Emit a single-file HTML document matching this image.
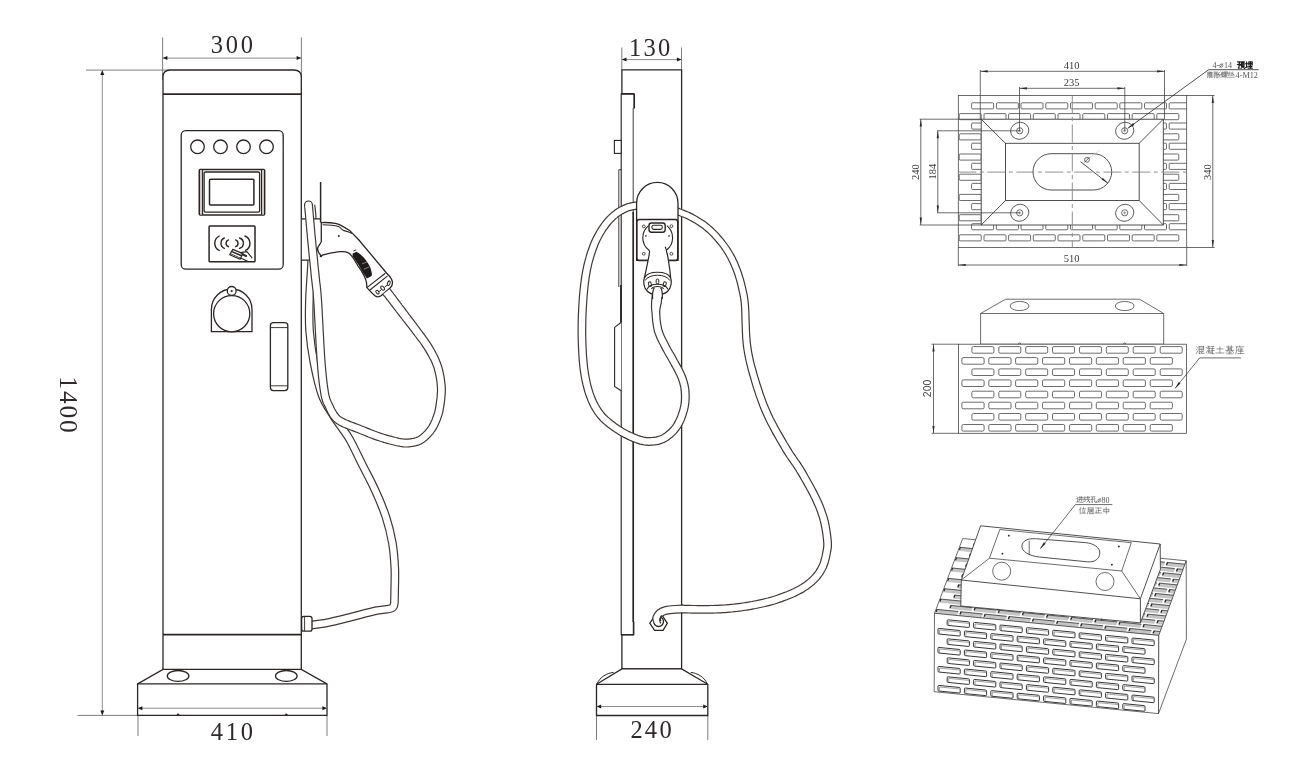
<!DOCTYPE html>
<html><head><meta charset="utf-8"><title>Charging pile dimension drawing</title>
<style>
html,body{margin:0;padding:0;background:#fff;}
body{width:1292px;height:780px;overflow:hidden;font-family:"Liberation Serif",serif;}
svg{display:block}
svg{will-change:transform}
.k{fill:none;stroke:#2b2624;stroke-width:1.3}
.kw{fill:#fff;stroke:#2b2624;stroke-width:1.3}
.kt{fill:none;stroke:#2b2624;stroke-width:0.9}
.kb{fill:none;stroke:#2b2624;stroke-width:1.7}
.d{fill:none;stroke:#8e8e8e;stroke-width:1}
.e{fill:none;stroke:#6e6e6e;stroke-width:0.9}
.g{fill:none;stroke:#3c3c3c;stroke-width:0.75}
.gw{fill:#fff;stroke:#3c3c3c;stroke-width:0.75}
.gl{fill:none;stroke:#858585;stroke-width:0.9}
.br{fill:#fff;stroke:#3c3c3c;stroke-width:0.75}
.big{font-family:"Liberation Serif",serif;font-size:24.5px;fill:#2e2a29}
.sm{font-family:"Liberation Serif",serif;font-size:10.5px;fill:#3a3a3a}
.ss{font-family:"Liberation Sans",sans-serif;font-size:10.5px;fill:#4a4a4a}
</style></head><body>
<svg width="1292" height="780" viewBox="0 0 1292 780">
<rect width="1292" height="780" fill="#fff"/>
<g id="front">
<path class="e" d="M162.6,37.5V80 M301.4,37.5V80 M86,70.1H171 M77.5,715.4H138 M138,715.4V736 M327,715.4V736"/>
<text class="big" x="210.8 225.8 240.8" y="52.8">300</text>
<text class="big" x="210.8 225.8 240.8" y="739.8">410</text>
<text class="big" style="font-size:25.5px" transform="translate(59.8,378.5) rotate(90)" x="-2.3 12.6 27 41.4" y="0">1400</text>
<path d="M311.0,205.0 C311.2,207.8 312.3,212.5 312.4,222.0 C312.5,231.5 312.1,249.0 311.6,262.0 C311.1,275.0 309.7,288.5 309.4,300.0 C309.1,311.5 308.8,320.5 309.6,331.0 C310.4,341.5 311.9,352.3 314.0,363.0 C316.1,373.7 318.8,386.3 322.0,395.0 C325.2,403.7 329.7,409.5 333.0,415.0 C336.3,420.5 339.2,423.8 342.0,428.0 C344.8,432.2 346.5,433.7 350.0,440.0 C353.5,446.3 358.5,457.1 362.8,465.6 C367.1,474.2 371.8,482.8 375.6,491.3 C379.5,499.9 383.1,508.3 385.9,516.9 C388.7,525.4 390.8,534.0 392.3,542.6 C393.8,551.2 394.4,559.7 394.8,568.2 C395.2,576.7 394.6,589.5 394.6,593.8 L394.4,603 Q394.2,608.6 388.6,609 L376.9,610.5 C368,612.4 360,614.8 351.3,617 C342,619.4 334,621.6 325.6,623.1 L311,625.1" fill="none" stroke="#3f3835" stroke-width="8.70" stroke-linecap="butt" stroke-linejoin="round"/>
<path d="M311.0,205.0 C311.2,207.8 312.3,212.5 312.4,222.0 C312.5,231.5 312.1,249.0 311.6,262.0 C311.1,275.0 309.7,288.5 309.4,300.0 C309.1,311.5 308.8,320.5 309.6,331.0 C310.4,341.5 311.9,352.3 314.0,363.0 C316.1,373.7 318.8,386.3 322.0,395.0 C325.2,403.7 329.7,409.5 333.0,415.0 C336.3,420.5 339.2,423.8 342.0,428.0 C344.8,432.2 346.5,433.7 350.0,440.0 C353.5,446.3 358.5,457.1 362.8,465.6 C367.1,474.2 371.8,482.8 375.6,491.3 C379.5,499.9 383.1,508.3 385.9,516.9 C388.7,525.4 390.8,534.0 392.3,542.6 C393.8,551.2 394.4,559.7 394.8,568.2 C395.2,576.7 394.6,589.5 394.6,593.8 L394.4,603 Q394.2,608.6 388.6,609 L376.9,610.5 C368,612.4 360,614.8 351.3,617 C342,619.4 334,621.6 325.6,623.1 L311,625.1" fill="none" stroke="#fff" stroke-width="6.30" stroke-linecap="butt" stroke-linejoin="round"/>
<path class="kw" d="M163,669.4V77 Q163,70 170.5,70 H293.8 Q301.3,70 301.3,77 V669.4"/>
<path class="kb" d="M163,94.2H301"/>
<path class="kb" d="M163,634.7H301.3"/>
<path class="kw" d="M163,669.4H301.3L327,683.9V715.4H137.6V683.9Z"/>
<path class="k" d="M137.6,683.9H327"/>
<ellipse class="k" cx="178.1" cy="675.9" rx="10.8" ry="5.4"/><ellipse class="k" cx="286.3" cy="675.9" rx="10.8" ry="5.4"/>
<circle cx="178.1" cy="714.6" r="1.2" fill="#2b2624"/><circle cx="286.3" cy="714.6" r="1.2" fill="#2b2624"/>
<rect class="k" x="181.2" y="130.6" width="102" height="138.6" rx="4.5"/>
<circle class="k" cx="197.5" cy="146.8" r="6.8"/>
<circle class="k" cx="220.5" cy="146.8" r="6.8"/>
<circle class="k" cx="243.5" cy="146.8" r="6.8"/>
<circle class="k" cx="266.5" cy="146.8" r="6.8"/>
<rect class="kb" x="199.3" y="169.5" width="65.3" height="45.5" rx="1" style="stroke-width:1.6"/>
<path d="M200,170.2H202.6V214.4H200Z M261.5,170.2H264V214.4H261.5Z" fill="#cfcac8"/>
<path class="k" style="stroke-width:1.1" d="M202.6,170V215 M261.5,170V215"/>
<rect class="k" x="204.1" y="172" width="55.5" height="40.2" rx="1.4" style="stroke-width:1.3"/>
<rect class="kb" x="209.5" y="179.3" width="44.4" height="25.7" rx="0.9" style="stroke-width:1.5"/>
<rect class="k" x="209.1" y="225.9" width="45.9" height="35.9" rx="0.8" style="stroke-width:1.5"/>
<g class="k" style="stroke-width:1.4" stroke-linecap="round">
<path d="M219.2,236.0 A8.09,8.09 0 0 0 219.2,250.4"/>
<path d="M224.3,238.0 A5.75,5.75 0 0 0 224.3,248.4"/>
<path d="M228.5,239.9 A3.61,3.61 0 0 0 228.5,246.7"/>
<path d="M235.6,239.9 A3.61,3.61 0 0 1 235.6,246.7"/>
<path d="M239.5,238.0 A5.42,5.42 0 0 1 239.5,248.4"/>
<path d="M244.9,236.0 A7.90,7.90 0 0 1 245.6,250.4"/>
</g>
<path d="M232.8,249.4L242.9,253.6L240.1,259.2L229.7,254.7Z" fill="#fff" stroke="#2b2624" stroke-width="1.2" stroke-linejoin="round"/>
<path d="M231.9,251.6L241.6,255.8" stroke="#2b2624" stroke-width="1.5" fill="none"/>
<path d="M230.9,253.9L240.4,258" stroke="#2b2624" stroke-width="0.8" fill="none"/>
<path class="k" style="stroke-width:1.1" d="M240.1,252.6L246.9,251.6L252.2,258.1 M240.7,258.1L248,261.4"/>
<path d="M242.6,254.4L246,256" stroke="#2b2624" stroke-width="2" fill="none" stroke-linecap="round"/>
<path class="k" d="M211.4,331.7V309.3 A20.3,20.3 0 0 1 252,309.3 V331.7 Z"/>
<circle class="kw" cx="231.7" cy="313.7" r="18.1"/>
<circle class="kw" cx="231.7" cy="290.9" r="4.4"/><circle cx="231.7" cy="291" r="1.1" fill="#2b2624"/>
<rect class="k" x="270.4" y="322.6" width="17.4" height="68" rx="3"/>
<path class="kt" d="M270.4,327.6H287.8 M270.4,385.8H287.8"/>
<rect x="301.9" y="218.9" width="18.4" height="41.2" fill="#fff"/>
<path class="k" d="M301.3,218.9H321 M301.3,260.1H310.5"/>
<path class="kb" style="stroke-width:1.5" d="M320.6,182V222.5"/>
<rect class="kw" x="301.6" y="616.3" width="10.4" height="14.8" rx="2.2"/>
<path class="kt" d="M304.6,616.5V631"/>
<path class="kw" d="M321.3,222.6 C326,222.4 331,222.6 335.3,223.3 C338,223.8 339.5,224.6 341,225.4 L349.6,230.4 L358.9,240 L386.7,273.2 C389.6,276 391.4,278 392.2,281 C393,284.6 391.8,286.4 390.3,287.8 L381.4,295.6 C379.4,297.2 376.6,297 374.6,295.4 L369.4,290.4 L366.9,287.6 C366.8,284 366.6,282 366,280.4 C365.2,278 364.4,276 363.3,274.1 C361.4,270.6 359.8,268.6 358,266 C356,262.6 354.6,259.8 352.6,257.1 C351,255 349.6,253.2 348.1,252.6 C345.6,251.4 342.6,251.5 340,251.7 C336,252 332,252.8 328.2,253.6 L322.3,255.2 L321.3,256.3 L320.6,255.2 C318.6,252.6 317.4,250.6 317.6,248.6 C317.8,246 321,243.4 321.3,241.5 Z"/>
<path class="k" style="stroke-width:1.1" d="M322.6,224.8 C328,224.8 334,225 338.5,226.6 C340.4,227.6 341.5,229 343.4,230.4 L349.4,232.2 L352,233.4"/>
<circle cx="338.8" cy="235.9" r="1" fill="#2b2624"/>
<path d="M352.6,253.5 L356.6,251.7 C359.6,253.4 362,255.6 364.2,258 C366.4,260.6 368.2,263.2 369.6,266 C370.8,268.6 371.6,271.2 371.9,274.1 L371.6,276 L366.9,278.6 C365.8,276.6 364.6,275 363.3,273.2 C361.8,270.2 360,267.2 358,264.2 C356.4,261.6 354.6,258.8 352.6,256.2 Z" fill="#1f1b1a"/>
<path d="M362,263.8 L367,262 M363.8,269.2 L369.2,266.9" stroke="#8a8a8a" stroke-width="0.9" fill="none"/>
<path d="M353.4,251 L356.2,249.8" stroke="#2b2624" stroke-width="1" fill="none"/>
<path class="k" style="stroke-width:1.1" d="M366.9,287.6 L385.3,273.2 M369.6,290.3 L387.6,275.9"/>
<g class="k" style="stroke-width:1">
<ellipse cx="377.5" cy="292.2" rx="1.3" ry="2.1" transform="rotate(-40 377.5 292.2)"/>
<ellipse cx="382.6" cy="288.2" rx="1.5" ry="2.3" transform="rotate(-40 382.6 288.2)"/>
<ellipse cx="388.8" cy="283.2" rx="1.2" ry="2.4" transform="rotate(20 388.8 283.2)"/>
<path d="M379.2,291.4 L381,290 M384.4,287.2 L387.4,285"/>
</g>
<polygon points="382.9,294.3 383.3,294.8 383.7,295.3 384.3,296.0 384.8,296.7 385.5,297.5 386.2,298.4 386.9,299.3 387.6,300.3 388.4,301.2 389.1,302.2 389.9,303.2 390.7,304.3 391.5,305.4 392.4,306.5 393.3,307.6 394.2,308.9 395.2,310.1 396.2,311.5 397.3,312.9 398.4,314.4 399.7,316.0 401.0,317.7 402.4,319.5 403.9,321.4 405.4,323.4 406.9,325.3 408.4,327.2 409.9,329.1 411.3,330.9 412.6,332.7 413.9,334.3 415.1,336.0 416.3,337.5 417.4,339.1 418.6,340.6 419.7,342.0 420.7,343.5 421.7,344.9 422.7,346.4 423.7,347.9 424.7,349.4 425.6,350.9 426.5,352.4 427.4,353.9 428.3,355.5 429.1,357.0 429.9,358.5 430.7,359.9 431.4,361.3 432.0,362.7 432.6,364.1 433.1,365.5 433.6,366.8 434.0,368.1 434.4,369.4 434.7,370.7 435.1,372.0 435.4,373.3 435.7,374.7 436.0,376.1 436.2,377.5 436.5,378.8 436.7,380.2 436.9,381.6 437.1,383.0 437.2,384.4 437.3,385.8 437.4,387.2 437.5,388.6 437.5,390.0 437.5,391.4 437.4,392.9 437.3,394.3 437.2,395.8 437.1,397.3 436.9,398.8 436.7,400.3 436.5,401.7 436.3,403.1 436.1,404.4 436.0,405.7 435.8,406.8 435.6,407.9 435.4,408.9 435.2,409.8 435.0,410.7 434.8,411.7 434.5,412.6 434.2,413.6 433.8,414.7 433.4,415.9 432.9,417.2 432.5,418.4 432.0,419.7 431.4,421.0 430.9,422.2 430.3,423.4 429.6,424.6 429.0,425.7 428.3,426.8 427.5,427.8 426.7,428.9 425.8,430.0 424.8,431.1 423.8,432.1 422.8,433.1 421.8,434.0 420.8,434.9 419.8,435.6 418.9,436.2 418.1,436.7 417.2,437.1 416.3,437.5 415.4,437.8 414.5,438.1 413.5,438.3 412.5,438.5 411.5,438.6 410.5,438.8 409.5,438.9 408.5,439.1 407.7,439.2 407.0,439.2 406.3,439.2 405.7,439.2 405.0,439.2 404.2,439.1 403.2,439.0 402.1,438.8 400.7,438.6 399.2,438.3 397.5,437.9 395.6,437.5 393.7,437.0 391.6,436.4 389.5,435.9 387.4,435.3 385.3,434.7 383.2,434.0 381.2,433.4 379.3,432.7 377.3,432.0 375.3,431.3 373.3,430.5 371.3,429.7 369.2,428.9 367.2,428.1 365.3,427.3 363.3,426.5 361.4,425.8 359.5,425.0 357.6,424.3 355.8,423.6 353.9,422.9 352.1,422.2 350.4,421.6 348.8,420.9 347.3,420.3 345.9,419.7 344.7,419.1 343.6,418.5 342.7,418.0 341.9,417.6 341.2,417.2 340.7,416.8 340.2,416.5 339.8,416.1 339.3,415.6 338.8,415.1 338.2,414.4 337.6,413.7 337.0,412.9 336.5,412.0 335.9,411.0 335.3,410.0 334.7,409.0 334.2,407.9 333.6,406.7 333.1,405.6 332.6,404.4 332.0,403.2 331.5,402.2 331.0,401.2 330.6,400.3 330.3,399.5 329.9,398.5 329.6,397.4 329.2,396.0 328.8,394.3 328.4,392.3 328.1,390.0 327.7,387.6 327.3,384.9 327.0,382.1 326.6,379.0 326.3,375.7 325.9,372.2 325.6,368.3 325.2,364.2 324.9,359.7 324.5,354.7 324.2,348.9 323.8,342.6 323.5,336.0 323.1,329.2 322.8,322.5 322.4,316.0 322.1,309.9 321.8,304.4 321.5,299.7 321.2,295.9 321.0,292.8 320.7,290.2 320.5,288.0 320.3,286.0 320.1,284.3 319.8,282.5 319.6,280.5 319.4,278.3 319.1,275.6 318.8,272.4 318.4,269.0 318.0,265.3 317.7,261.5 317.3,257.7 316.9,253.8 316.5,250.0 316.1,246.3 315.8,242.8 315.5,239.6 315.2,236.6 314.9,233.7 314.7,230.9 314.4,228.1 314.2,225.5 314.0,223.0 313.8,220.7 313.6,218.5 313.4,216.5 313.3,214.7 313.1,213.0 313.0,211.6 312.9,210.3 312.8,209.3 312.7,208.3 312.6,207.5 312.5,206.8 312.5,206.2 312.4,205.6 312.4,205.1 304.6,205.9 304.7,206.4 304.7,206.9 304.8,207.5 304.9,208.3 304.9,209.1 305.0,210.0 305.1,211.1 305.2,212.3 305.4,213.7 305.5,215.3 305.7,217.2 305.8,219.2 306.0,221.3 306.2,223.7 306.4,226.2 306.7,228.8 306.9,231.5 307.2,234.4 307.4,237.3 307.7,240.4 308.0,243.6 308.4,247.1 308.7,250.8 309.1,254.6 309.5,258.5 309.9,262.3 310.3,266.1 310.7,269.8 311.0,273.2 311.3,276.4 311.6,279.1 311.9,281.4 312.1,283.4 312.3,285.2 312.5,287.0 312.7,288.8 313.0,290.9 313.2,293.4 313.4,296.5 313.7,300.3 314.0,304.9 314.3,310.3 314.6,316.4 315.0,322.9 315.3,329.6 315.7,336.4 316.0,343.1 316.4,349.4 316.8,355.2 317.1,360.3 317.5,364.8 317.8,369.0 318.2,372.9 318.5,376.5 318.9,379.9 319.2,383.0 319.6,385.9 320.0,388.7 320.4,391.2 320.8,393.7 321.2,395.9 321.6,397.8 322.1,399.5 322.5,401.0 323.0,402.3 323.5,403.5 324.0,404.6 324.5,405.5 325.0,406.5 325.4,407.6 326.0,408.8 326.6,410.1 327.2,411.3 327.8,412.6 328.5,413.8 329.2,415.0 329.9,416.2 330.6,417.3 331.4,418.4 332.2,419.4 333.0,420.3 333.7,421.1 334.5,421.8 335.3,422.5 336.2,423.2 337.0,423.8 338.0,424.3 339.0,424.9 340.0,425.5 341.3,426.1 342.7,426.8 344.2,427.5 345.9,428.1 347.6,428.8 349.3,429.5 351.2,430.2 353.0,430.9 354.9,431.6 356.7,432.3 358.6,433.0 360.4,433.8 362.3,434.5 364.3,435.3 366.3,436.1 368.4,437.0 370.4,437.8 372.5,438.6 374.6,439.4 376.7,440.1 378.8,440.8 380.9,441.5 383.0,442.1 385.2,442.8 387.4,443.4 389.6,444.0 391.8,444.5 393.8,445.0 395.8,445.5 397.6,445.9 399.3,446.2 400.7,446.5 402.1,446.7 403.3,446.9 404.4,447.0 405.4,447.0 406.5,447.0 407.5,447.0 408.5,446.9 409.5,446.8 410.5,446.7 411.6,446.5 412.8,446.3 413.9,446.1 415.2,445.9 416.4,445.6 417.7,445.2 419.1,444.8 420.4,444.2 421.8,443.6 423.1,442.8 424.4,441.9 425.6,440.9 426.9,439.9 428.1,438.8 429.3,437.6 430.5,436.4 431.6,435.1 432.7,433.8 433.7,432.5 434.7,431.2 435.6,429.9 436.4,428.4 437.2,427.0 437.9,425.5 438.6,424.1 439.2,422.6 439.7,421.2 440.3,419.9 440.7,418.6 441.2,417.3 441.6,416.1 442.0,414.9 442.3,413.7 442.6,412.6 442.9,411.4 443.1,410.3 443.3,409.2 443.5,408.0 443.7,406.8 443.9,405.6 444.1,404.2 444.3,402.8 444.5,401.3 444.7,399.7 444.8,398.1 445.0,396.5 445.1,394.9 445.2,393.2 445.3,391.6 445.3,390.0 445.3,388.4 445.2,386.8 445.1,385.3 445.0,383.7 444.8,382.2 444.6,380.6 444.4,379.1 444.2,377.6 443.9,376.0 443.6,374.5 443.3,373.1 443.0,371.6 442.7,370.1 442.3,368.7 441.9,367.2 441.4,365.7 440.9,364.3 440.4,362.7 439.8,361.2 439.2,359.7 438.5,358.1 437.8,356.5 437.0,354.9 436.1,353.2 435.3,351.6 434.4,350.0 433.4,348.4 432.5,346.7 431.5,345.1 430.5,343.5 429.5,341.9 428.4,340.4 427.3,338.8 426.2,337.3 425.1,335.7 424.0,334.2 422.8,332.6 421.6,331.0 420.4,329.4 419.2,327.7 417.9,326.0 416.5,324.1 415.0,322.2 413.5,320.2 412.0,318.2 410.6,316.3 409.1,314.4 407.7,312.5 406.4,310.8 405.2,309.2 404.1,307.7 403.0,306.3 402.0,305.0 401.1,303.7 400.2,302.5 399.3,301.3 398.4,300.2 397.6,299.1 396.8,298.0 396.1,297.0 395.3,295.9 394.5,294.9 393.8,294.0 393.1,293.0 392.4,292.1 391.7,291.3 391.2,290.6 390.7,289.9 390.2,289.4 389.9,288.9" fill="#fff" stroke="none"/>
<polyline points="382.9,294.3 383.3,294.8 383.7,295.3 384.3,296.0 384.8,296.7 385.5,297.5 386.2,298.4 386.9,299.3 387.6,300.3 388.4,301.2 389.1,302.2 389.9,303.2 390.7,304.3 391.5,305.4 392.4,306.5 393.3,307.6 394.2,308.9 395.2,310.1 396.2,311.5 397.3,312.9 398.4,314.4 399.7,316.0 401.0,317.7 402.4,319.5 403.9,321.4 405.4,323.4 406.9,325.3 408.4,327.2 409.9,329.1 411.3,330.9 412.6,332.7 413.9,334.3 415.1,336.0 416.3,337.5 417.4,339.1 418.6,340.6 419.7,342.0 420.7,343.5 421.7,344.9 422.7,346.4 423.7,347.9 424.7,349.4 425.6,350.9 426.5,352.4 427.4,353.9 428.3,355.5 429.1,357.0 429.9,358.5 430.7,359.9 431.4,361.3 432.0,362.7 432.6,364.1 433.1,365.5 433.6,366.8 434.0,368.1 434.4,369.4 434.7,370.7 435.1,372.0 435.4,373.3 435.7,374.7 436.0,376.1 436.2,377.5 436.5,378.8 436.7,380.2 436.9,381.6 437.1,383.0 437.2,384.4 437.3,385.8 437.4,387.2 437.5,388.6 437.5,390.0 437.5,391.4 437.4,392.9 437.3,394.3 437.2,395.8 437.1,397.3 436.9,398.8 436.7,400.3 436.5,401.7 436.3,403.1 436.1,404.4 436.0,405.7 435.8,406.8 435.6,407.9 435.4,408.9 435.2,409.8 435.0,410.7 434.8,411.7 434.5,412.6 434.2,413.6 433.8,414.7 433.4,415.9 432.9,417.2 432.5,418.4 432.0,419.7 431.4,421.0 430.9,422.2 430.3,423.4 429.6,424.6 429.0,425.7 428.3,426.8 427.5,427.8 426.7,428.9 425.8,430.0 424.8,431.1 423.8,432.1 422.8,433.1 421.8,434.0 420.8,434.9 419.8,435.6 418.9,436.2 418.1,436.7 417.2,437.1 416.3,437.5 415.4,437.8 414.5,438.1 413.5,438.3 412.5,438.5 411.5,438.6 410.5,438.8 409.5,438.9 408.5,439.1 407.7,439.2 407.0,439.2 406.3,439.2 405.7,439.2 405.0,439.2 404.2,439.1 403.2,439.0 402.1,438.8 400.7,438.6 399.2,438.3 397.5,437.9 395.6,437.5 393.7,437.0 391.6,436.4 389.5,435.9 387.4,435.3 385.3,434.7 383.2,434.0 381.2,433.4 379.3,432.7 377.3,432.0 375.3,431.3 373.3,430.5 371.3,429.7 369.2,428.9 367.2,428.1 365.3,427.3 363.3,426.5 361.4,425.8 359.5,425.0 357.6,424.3 355.8,423.6 353.9,422.9 352.1,422.2 350.4,421.6 348.8,420.9 347.3,420.3 345.9,419.7 344.7,419.1 343.6,418.5 342.7,418.0 341.9,417.6 341.2,417.2 340.7,416.8 340.2,416.5 339.8,416.1 339.3,415.6 338.8,415.1 338.2,414.4 337.6,413.7 337.0,412.9 336.5,412.0 335.9,411.0 335.3,410.0 334.7,409.0 334.2,407.9 333.6,406.7 333.1,405.6 332.6,404.4 332.0,403.2 331.5,402.2 331.0,401.2 330.6,400.3 330.3,399.5 329.9,398.5 329.6,397.4 329.2,396.0 328.8,394.3 328.4,392.3 328.1,390.0 327.7,387.6 327.3,384.9 327.0,382.1 326.6,379.0 326.3,375.7 325.9,372.2 325.6,368.3 325.2,364.2 324.9,359.7 324.5,354.7 324.2,348.9 323.8,342.6 323.5,336.0 323.1,329.2 322.8,322.5 322.4,316.0 322.1,309.9 321.8,304.4 321.5,299.7 321.2,295.9 321.0,292.8 320.7,290.2 320.5,288.0 320.3,286.0 320.1,284.3 319.8,282.5 319.6,280.5 319.4,278.3 319.1,275.6 318.8,272.4 318.4,269.0 318.0,265.3 317.7,261.5 317.3,257.7 316.9,253.8 316.5,250.0 316.1,246.3 315.8,242.8 315.5,239.6 315.2,236.6 314.9,233.7 314.7,230.9 314.4,228.1 314.2,225.5 314.0,223.0 313.8,220.7 313.6,218.5 313.4,216.5 313.3,214.7 313.1,213.0 313.0,211.6 312.9,210.3 312.8,209.3 312.7,208.3 312.6,207.5 312.5,206.8 312.5,206.2 312.4,205.6 312.4,205.1" fill="none" stroke="#3f3835" stroke-width="1.20" stroke-linejoin="round"/>
<polyline points="389.9,288.9 390.2,289.4 390.7,289.9 391.2,290.6 391.7,291.3 392.4,292.1 393.1,293.0 393.8,294.0 394.5,294.9 395.3,295.9 396.1,297.0 396.8,298.0 397.6,299.1 398.4,300.2 399.3,301.3 400.2,302.5 401.1,303.7 402.0,305.0 403.0,306.3 404.1,307.7 405.2,309.2 406.4,310.8 407.7,312.5 409.1,314.4 410.6,316.3 412.0,318.2 413.5,320.2 415.0,322.2 416.5,324.1 417.9,326.0 419.2,327.7 420.4,329.4 421.6,331.0 422.8,332.6 424.0,334.2 425.1,335.7 426.2,337.3 427.3,338.8 428.4,340.4 429.5,341.9 430.5,343.5 431.5,345.1 432.5,346.7 433.4,348.4 434.4,350.0 435.3,351.6 436.1,353.2 437.0,354.9 437.8,356.5 438.5,358.1 439.2,359.7 439.8,361.2 440.4,362.7 440.9,364.3 441.4,365.7 441.9,367.2 442.3,368.7 442.7,370.1 443.0,371.6 443.3,373.1 443.6,374.5 443.9,376.0 444.2,377.6 444.4,379.1 444.6,380.6 444.8,382.2 445.0,383.7 445.1,385.3 445.2,386.8 445.3,388.4 445.3,390.0 445.3,391.6 445.2,393.2 445.1,394.9 445.0,396.5 444.8,398.1 444.7,399.7 444.5,401.3 444.3,402.8 444.1,404.2 443.9,405.6 443.7,406.8 443.5,408.0 443.3,409.2 443.1,410.3 442.9,411.4 442.6,412.6 442.3,413.7 442.0,414.9 441.6,416.1 441.2,417.3 440.7,418.6 440.3,419.9 439.7,421.2 439.2,422.6 438.6,424.1 437.9,425.5 437.2,427.0 436.4,428.4 435.6,429.9 434.7,431.2 433.7,432.5 432.7,433.8 431.6,435.1 430.5,436.4 429.3,437.6 428.1,438.8 426.9,439.9 425.6,440.9 424.4,441.9 423.1,442.8 421.8,443.6 420.4,444.2 419.1,444.8 417.7,445.2 416.4,445.6 415.2,445.9 413.9,446.1 412.8,446.3 411.6,446.5 410.5,446.7 409.5,446.8 408.5,446.9 407.5,447.0 406.5,447.0 405.4,447.0 404.4,447.0 403.3,446.9 402.1,446.7 400.7,446.5 399.3,446.2 397.6,445.9 395.8,445.5 393.8,445.0 391.8,444.5 389.6,444.0 387.4,443.4 385.2,442.8 383.0,442.1 380.9,441.5 378.8,440.8 376.7,440.1 374.6,439.4 372.5,438.6 370.4,437.8 368.4,437.0 366.3,436.1 364.3,435.3 362.3,434.5 360.4,433.8 358.6,433.0 356.7,432.3 354.9,431.6 353.0,430.9 351.2,430.2 349.3,429.5 347.6,428.8 345.9,428.1 344.2,427.5 342.7,426.8 341.3,426.1 340.0,425.5 339.0,424.9 338.0,424.3 337.0,423.8 336.2,423.2 335.3,422.5 334.5,421.8 333.7,421.1 333.0,420.3 332.2,419.4 331.4,418.4 330.6,417.3 329.9,416.2 329.2,415.0 328.5,413.8 327.8,412.6 327.2,411.3 326.6,410.1 326.0,408.8 325.4,407.6 325.0,406.5 324.5,405.5 324.0,404.6 323.5,403.5 323.0,402.3 322.5,401.0 322.1,399.5 321.6,397.8 321.2,395.9 320.8,393.7 320.4,391.2 320.0,388.7 319.6,385.9 319.2,383.0 318.9,379.9 318.5,376.5 318.2,372.9 317.8,369.0 317.5,364.8 317.1,360.3 316.8,355.2 316.4,349.4 316.0,343.1 315.7,336.4 315.3,329.6 315.0,322.9 314.6,316.4 314.3,310.3 314.0,304.9 313.7,300.3 313.4,296.5 313.2,293.4 313.0,290.9 312.7,288.8 312.5,287.0 312.3,285.2 312.1,283.4 311.9,281.4 311.6,279.1 311.3,276.4 311.0,273.2 310.7,269.8 310.3,266.1 309.9,262.3 309.5,258.5 309.1,254.6 308.7,250.8 308.4,247.1 308.0,243.6 307.7,240.4 307.4,237.3 307.2,234.4 306.9,231.5 306.7,228.8 306.4,226.2 306.2,223.7 306.0,221.3 305.8,219.2 305.7,217.2 305.5,215.3 305.4,213.7 305.2,212.3 305.1,211.1 305.0,210.0 304.9,209.1 304.9,208.3 304.8,207.5 304.7,206.9 304.7,206.4 304.6,205.9" fill="none" stroke="#3f3835" stroke-width="1.20" stroke-linejoin="round"/>
<path class="kw" style="stroke-width:1.15" d="M304.6,206.6 V205 A3.9,4 0 0 1 312.4,205 V206.6" />
<path d="M305.3,206.6H311.7" stroke="#fff" stroke-width="1.6"/>
<circle cx="320.8" cy="256.2" r="1.1" fill="#2b2624"/>
<path class="d" d="M163,58.1H301 M102.3,70.5V715 M138,708.2H327"/>
<polygon points="162.8,58.1 167.4,56.1 167.4,60.1" fill="#1a1a1a"/>
<polygon points="301.2,58.1 296.6,60.1 296.6,56.1" fill="#1a1a1a"/>
<polygon points="102.3,70.3 104.3,74.9 100.3,74.9" fill="#1a1a1a"/>
<polygon points="102.3,715.2 100.3,710.6 104.3,710.6" fill="#1a1a1a"/>
<polygon points="137.8,708.2 142.4,706.2 142.4,710.2" fill="#1a1a1a"/>
<polygon points="327.0,708.2 322.4,710.2 322.4,706.2" fill="#1a1a1a"/>
</g>
<g id="side">
<path class="e" d="M621.8,47.5V70 M681.5,47.5V70 M596.5,715.5V740 M707.8,715.5V740"/>
<text class="big" x="629 643.4 658" y="55.6">130</text>
<text class="big" x="630.4 644.8 659.4" y="737.7">240</text>
<path class="kw" d="M621.9,668.9V69.8H681.6V668.9Z"/>
<path class="kw" d="M634.2,93.8H621.2V634.7H633.6" style="stroke-width:1.1"/>
<path class="kb" d="M634.2,93.8V108.5 M621.2,93.8H634.4"/>
<path class="kb" style="stroke-width:1.6" d="M633.6,621.5V634.7H621.2"/>
<path class="kt" d="M633.2,108V214"/>
<path class="k" style="stroke-width:1.7" d="M633.2,212V622"/>
<path class="k" style="stroke-width:1.8" d="M621,285V322.3"/>
<rect class="kw" x="614.4" y="140.4" width="6.8" height="13" style="stroke-width:1.1"/>
<path class="kt" d="M621.2,169.7H618.8V287"/>
<path class="kw" style="stroke-width:1.1" d="M621.2,322.3L614.6,327.4V386.4L621.2,390.8"/>
<path class="kw" d="M621.9,668.9H681.6L707.8,684.3V715.5H596.5V684.3Z"/>
<path class="k" d="M596.5,684.3H707.8"/>
<path class="k" style="stroke-width:1" d="M597.2,683.6 C600,677 607,673 613.6,672.4 M707.1,683.6 C704.3,677 697.3,673 690.7,672.4"/>
<polygon points="639.5,201.5 639.3,201.5 639.2,201.5 638.9,201.6 638.6,201.6 638.3,201.6 637.9,201.7 637.4,201.8 636.9,201.9 636.2,202.0 635.6,202.1 634.9,202.2 634.1,202.4 633.2,202.5 632.2,202.7 631.1,202.9 629.9,203.1 628.8,203.4 627.5,203.7 626.3,204.1 625.1,204.6 623.9,205.1 622.8,205.6 621.6,206.1 620.5,206.7 619.3,207.3 618.2,208.0 617.0,208.7 615.8,209.5 614.7,210.3 613.6,211.2 612.5,212.0 611.4,212.9 610.4,213.9 609.3,214.8 608.3,215.8 607.2,216.9 606.2,218.0 605.2,219.2 604.1,220.4 603.1,221.7 602.1,223.0 601.1,224.4 600.1,225.8 599.1,227.3 598.1,228.9 597.1,230.5 596.2,232.1 595.3,233.7 594.4,235.4 593.5,237.1 592.7,238.8 591.9,240.5 591.1,242.3 590.4,244.0 589.7,245.8 589.0,247.7 588.4,249.5 587.7,251.4 587.1,253.3 586.5,255.2 586.0,257.2 585.4,259.1 584.9,261.1 584.4,263.0 583.9,265.1 583.5,267.1 583.0,269.3 582.6,271.5 582.2,273.8 581.8,276.2 581.4,278.8 581.1,281.4 580.7,284.1 580.4,286.9 580.1,289.7 579.8,292.6 579.5,295.6 579.3,298.6 579.1,301.7 578.9,304.8 578.7,307.9 578.6,311.2 578.4,314.5 578.3,317.9 578.2,321.3 578.2,324.8 578.1,328.3 578.1,331.7 578.1,335.2 578.2,338.6 578.3,342.0 578.4,345.5 578.6,349.0 578.7,352.5 579.0,356.0 579.2,359.4 579.5,362.9 579.8,366.2 580.2,369.4 580.6,372.6 581.1,375.6 581.6,378.5 582.2,381.4 582.8,384.2 583.5,386.9 584.2,389.5 584.9,392.1 585.7,394.6 586.6,397.0 587.5,399.4 588.4,401.7 589.4,403.8 590.4,405.9 591.4,408.0 592.5,409.9 593.7,411.8 594.9,413.7 596.3,415.5 597.7,417.3 599.2,419.0 600.8,420.8 602.5,422.5 604.4,424.1 606.3,425.7 608.2,427.3 610.2,428.8 612.2,430.2 614.1,431.5 616.1,432.8 618.0,434.0 619.9,435.2 621.9,436.3 623.9,437.4 625.9,438.4 627.9,439.4 629.9,440.3 631.8,441.1 633.6,441.8 635.4,442.5 637.1,443.1 638.6,443.6 640.1,444.1 641.6,444.4 642.9,444.7 644.3,445.0 645.6,445.1 647.0,445.2 648.3,445.3 649.6,445.3 651.0,445.2 652.4,445.1 653.9,445.0 655.3,444.8 656.8,444.6 658.4,444.3 659.9,443.9 661.5,443.4 663.1,442.8 664.7,442.1 666.2,441.3 667.7,440.4 669.1,439.4 670.6,438.3 672.0,437.2 673.5,435.9 674.8,434.6 676.2,433.2 677.5,431.7 678.7,430.1 679.9,428.5 680.9,426.8 681.9,425.0 682.9,423.1 683.8,421.2 684.6,419.2 685.3,417.2 686.0,415.2 686.6,413.3 687.2,411.4 687.7,409.5 688.1,407.7 688.4,405.8 688.7,404.0 688.9,402.2 689.0,400.5 689.1,398.7 689.2,397.0 689.1,395.3 689.1,393.7 689.0,392.0 688.9,390.4 688.7,388.8 688.5,387.2 688.2,385.7 687.9,384.2 687.5,382.6 687.1,381.1 686.6,379.6 686.1,378.0 685.6,376.5 684.9,374.9 684.2,373.3 683.5,371.7 682.7,370.1 681.9,368.5 681.1,367.0 680.2,365.4 679.4,363.9 678.5,362.3 677.6,360.7 676.7,359.0 675.8,357.3 674.8,355.5 673.8,353.7 672.7,352.0 671.7,350.2 670.7,348.5 669.8,346.8 668.9,345.1 668.1,343.5 667.3,341.9 666.5,340.3 665.7,338.8 665.0,337.4 664.3,336.0 663.7,334.6 663.1,333.2 662.6,331.8 662.1,330.3 661.7,328.8 661.3,327.3 661.0,325.5 660.7,323.7 660.4,321.9 660.2,320.0 660.0,318.1 659.9,316.3 659.8,314.5 659.7,312.9 659.7,311.4 659.8,310.0 660.0,308.8 660.2,307.7 660.4,306.7 660.6,305.6 660.8,304.6 661.1,303.6 661.3,302.6 661.4,301.5 661.5,300.4 661.6,299.4 661.7,298.5 661.8,297.5 661.9,296.6 661.9,295.7 662.0,294.9 662.1,294.1 662.1,293.5 662.2,292.9 662.2,292.4 652.6,291.6 652.5,292.0 652.5,292.6 652.4,293.3 652.3,294.0 652.3,294.9 652.2,295.7 652.1,296.7 652.0,297.6 651.9,298.6 651.9,299.6 651.8,300.4 651.7,301.3 651.6,302.3 651.6,303.4 651.6,304.6 651.5,305.8 651.5,307.2 651.6,308.6 651.7,310.1 651.9,311.6 652.1,313.3 652.2,315.0 652.3,316.9 652.5,318.8 652.6,320.8 652.9,322.8 653.2,324.9 653.5,326.9 653.9,328.9 654.3,330.8 654.8,332.6 655.4,334.3 656.1,336.0 656.7,337.6 657.4,339.2 658.2,340.7 658.9,342.2 659.7,343.8 660.5,345.3 661.3,346.9 662.2,348.6 663.1,350.4 664.1,352.2 665.1,354.0 666.1,355.7 667.2,357.5 668.2,359.3 669.1,361.0 670.1,362.7 671.0,364.3 671.8,365.9 672.7,367.5 673.6,369.1 674.4,370.6 675.2,372.1 675.9,373.6 676.7,375.0 677.3,376.4 677.9,377.8 678.4,379.1 678.9,380.5 679.4,381.9 679.8,383.2 680.1,384.5 680.4,385.8 680.7,387.1 681.0,388.4 681.1,389.8 681.3,391.1 681.4,392.6 681.5,394.0 681.5,395.5 681.6,397.0 681.5,398.5 681.5,400.0 681.3,401.5 681.2,403.1 681.0,404.6 680.7,406.1 680.3,407.7 679.9,409.3 679.4,411.1 678.8,412.8 678.2,414.6 677.5,416.4 676.8,418.1 676.0,419.8 675.2,421.4 674.4,422.9 673.5,424.3 672.6,425.6 671.6,426.8 670.6,428.0 669.5,429.2 668.3,430.3 667.1,431.3 665.9,432.3 664.7,433.2 663.5,434.0 662.4,434.7 661.3,435.3 660.2,435.8 659.1,436.2 657.9,436.5 656.7,436.8 655.5,437.1 654.3,437.3 653.1,437.4 651.8,437.5 650.6,437.6 649.4,437.7 648.4,437.7 647.4,437.6 646.4,437.6 645.4,437.4 644.4,437.3 643.3,437.0 642.2,436.7 640.9,436.4 639.5,435.9 638.0,435.4 636.4,434.7 634.7,434.1 632.9,433.3 631.1,432.5 629.3,431.6 627.4,430.7 625.6,429.7 623.8,428.7 622.0,427.6 620.2,426.4 618.4,425.2 616.5,423.9 614.7,422.6 612.9,421.3 611.1,419.8 609.4,418.4 607.7,416.9 606.2,415.5 604.8,414.0 603.5,412.4 602.3,410.9 601.2,409.3 600.1,407.7 599.1,406.0 598.1,404.3 597.2,402.5 596.3,400.7 595.4,398.7 594.5,396.6 593.7,394.4 592.9,392.2 592.2,389.9 591.5,387.5 590.8,385.0 590.2,382.4 589.7,379.8 589.1,377.1 588.6,374.3 588.2,371.4 587.7,368.5 587.4,365.4 587.1,362.2 586.8,358.8 586.5,355.5 586.3,352.0 586.2,348.6 586.0,345.2 585.9,341.8 585.8,338.4 585.7,335.1 585.7,331.7 585.7,328.3 585.8,324.9 585.8,321.5 585.9,318.1 586.0,314.8 586.2,311.5 586.3,308.3 586.5,305.2 586.7,302.2 586.9,299.2 587.1,296.2 587.4,293.3 587.6,290.5 587.9,287.7 588.2,285.0 588.5,282.3 588.9,279.8 589.2,277.4 589.6,275.0 590.0,272.8 590.3,270.7 590.8,268.7 591.2,266.7 591.6,264.8 592.1,262.9 592.6,261.1 593.1,259.2 593.7,257.4 594.2,255.5 594.8,253.7 595.4,251.9 596.0,250.2 596.6,248.4 597.3,246.8 597.9,245.1 598.6,243.5 599.3,241.9 600.1,240.3 600.9,238.8 601.7,237.2 602.5,235.7 603.4,234.2 604.3,232.8 605.2,231.3 606.1,229.9 607.1,228.6 608.0,227.3 608.9,226.1 609.8,225.0 610.7,223.9 611.6,222.9 612.5,221.9 613.4,221.0 614.3,220.1 615.2,219.2 616.1,218.4 617.1,217.6 618.0,216.8 619.0,216.1 619.9,215.4 620.9,214.8 621.9,214.2 622.9,213.6 623.9,213.1 624.8,212.5 625.8,212.1 626.8,211.6 627.7,211.2 628.6,210.9 629.5,210.6 630.5,210.3 631.5,210.1 632.5,209.9 633.4,209.7 634.4,209.6 635.3,209.4 636.2,209.2 637.0,209.1 637.6,209.0 638.1,208.9 638.6,208.8 638.9,208.7 639.3,208.7 639.5,208.6 639.8,208.6 640.0,208.6 640.3,208.5 640.5,208.5" fill="#fff" stroke="none"/>
<polyline points="639.5,201.5 639.3,201.5 639.2,201.5 638.9,201.6 638.6,201.6 638.3,201.6 637.9,201.7 637.4,201.8 636.9,201.9 636.2,202.0 635.6,202.1 634.9,202.2 634.1,202.4 633.2,202.5 632.2,202.7 631.1,202.9 629.9,203.1 628.8,203.4 627.5,203.7 626.3,204.1 625.1,204.6 623.9,205.1 622.8,205.6 621.6,206.1 620.5,206.7 619.3,207.3 618.2,208.0 617.0,208.7 615.8,209.5 614.7,210.3 613.6,211.2 612.5,212.0 611.4,212.9 610.4,213.9 609.3,214.8 608.3,215.8 607.2,216.9 606.2,218.0 605.2,219.2 604.1,220.4 603.1,221.7 602.1,223.0 601.1,224.4 600.1,225.8 599.1,227.3 598.1,228.9 597.1,230.5 596.2,232.1 595.3,233.7 594.4,235.4 593.5,237.1 592.7,238.8 591.9,240.5 591.1,242.3 590.4,244.0 589.7,245.8 589.0,247.7 588.4,249.5 587.7,251.4 587.1,253.3 586.5,255.2 586.0,257.2 585.4,259.1 584.9,261.1 584.4,263.0 583.9,265.1 583.5,267.1 583.0,269.3 582.6,271.5 582.2,273.8 581.8,276.2 581.4,278.8 581.1,281.4 580.7,284.1 580.4,286.9 580.1,289.7 579.8,292.6 579.5,295.6 579.3,298.6 579.1,301.7 578.9,304.8 578.7,307.9 578.6,311.2 578.4,314.5 578.3,317.9 578.2,321.3 578.2,324.8 578.1,328.3 578.1,331.7 578.1,335.2 578.2,338.6 578.3,342.0 578.4,345.5 578.6,349.0 578.7,352.5 579.0,356.0 579.2,359.4 579.5,362.9 579.8,366.2 580.2,369.4 580.6,372.6 581.1,375.6 581.6,378.5 582.2,381.4 582.8,384.2 583.5,386.9 584.2,389.5 584.9,392.1 585.7,394.6 586.6,397.0 587.5,399.4 588.4,401.7 589.4,403.8 590.4,405.9 591.4,408.0 592.5,409.9 593.7,411.8 594.9,413.7 596.3,415.5 597.7,417.3 599.2,419.0 600.8,420.8 602.5,422.5 604.4,424.1 606.3,425.7 608.2,427.3 610.2,428.8 612.2,430.2 614.1,431.5 616.1,432.8 618.0,434.0 619.9,435.2 621.9,436.3 623.9,437.4 625.9,438.4 627.9,439.4 629.9,440.3 631.8,441.1 633.6,441.8 635.4,442.5 637.1,443.1 638.6,443.6 640.1,444.1 641.6,444.4 642.9,444.7 644.3,445.0 645.6,445.1 647.0,445.2 648.3,445.3 649.6,445.3 651.0,445.2 652.4,445.1 653.9,445.0 655.3,444.8 656.8,444.6 658.4,444.3 659.9,443.9 661.5,443.4 663.1,442.8 664.7,442.1 666.2,441.3 667.7,440.4 669.1,439.4 670.6,438.3 672.0,437.2 673.5,435.9 674.8,434.6 676.2,433.2 677.5,431.7 678.7,430.1 679.9,428.5 680.9,426.8 681.9,425.0 682.9,423.1 683.8,421.2 684.6,419.2 685.3,417.2 686.0,415.2 686.6,413.3 687.2,411.4 687.7,409.5 688.1,407.7 688.4,405.8 688.7,404.0 688.9,402.2 689.0,400.5 689.1,398.7 689.2,397.0 689.1,395.3 689.1,393.7 689.0,392.0 688.9,390.4 688.7,388.8 688.5,387.2 688.2,385.7 687.9,384.2 687.5,382.6 687.1,381.1 686.6,379.6 686.1,378.0 685.6,376.5 684.9,374.9 684.2,373.3 683.5,371.7 682.7,370.1 681.9,368.5 681.1,367.0 680.2,365.4 679.4,363.9 678.5,362.3 677.6,360.7 676.7,359.0 675.8,357.3 674.8,355.5 673.8,353.7 672.7,352.0 671.7,350.2 670.7,348.5 669.8,346.8 668.9,345.1 668.1,343.5 667.3,341.9 666.5,340.3 665.7,338.8 665.0,337.4 664.3,336.0 663.7,334.6 663.1,333.2 662.6,331.8 662.1,330.3 661.7,328.8 661.3,327.3 661.0,325.5 660.7,323.7 660.4,321.9 660.2,320.0 660.0,318.1 659.9,316.3 659.8,314.5 659.7,312.9 659.7,311.4 659.8,310.0 660.0,308.8 660.2,307.7 660.4,306.7 660.6,305.6 660.8,304.6 661.1,303.6 661.3,302.6 661.4,301.5 661.5,300.4 661.6,299.4 661.7,298.5 661.8,297.5 661.9,296.6 661.9,295.7 662.0,294.9 662.1,294.1 662.1,293.5 662.2,292.9 662.2,292.4" fill="none" stroke="#3f3835" stroke-width="1.20" stroke-linejoin="round"/>
<polyline points="640.5,208.5 640.3,208.5 640.0,208.6 639.8,208.6 639.5,208.6 639.3,208.7 638.9,208.7 638.6,208.8 638.1,208.9 637.6,209.0 637.0,209.1 636.2,209.2 635.3,209.4 634.4,209.6 633.4,209.7 632.5,209.9 631.5,210.1 630.5,210.3 629.5,210.6 628.6,210.9 627.7,211.2 626.8,211.6 625.8,212.1 624.8,212.5 623.9,213.1 622.9,213.6 621.9,214.2 620.9,214.8 619.9,215.4 619.0,216.1 618.0,216.8 617.1,217.6 616.1,218.4 615.2,219.2 614.3,220.1 613.4,221.0 612.5,221.9 611.6,222.9 610.7,223.9 609.8,225.0 608.9,226.1 608.0,227.3 607.1,228.6 606.1,229.9 605.2,231.3 604.3,232.8 603.4,234.2 602.5,235.7 601.7,237.2 600.9,238.8 600.1,240.3 599.3,241.9 598.6,243.5 597.9,245.1 597.3,246.8 596.6,248.4 596.0,250.2 595.4,251.9 594.8,253.7 594.2,255.5 593.7,257.4 593.1,259.2 592.6,261.1 592.1,262.9 591.6,264.8 591.2,266.7 590.8,268.7 590.3,270.7 590.0,272.8 589.6,275.0 589.2,277.4 588.9,279.8 588.5,282.3 588.2,285.0 587.9,287.7 587.6,290.5 587.4,293.3 587.1,296.2 586.9,299.2 586.7,302.2 586.5,305.2 586.3,308.3 586.2,311.5 586.0,314.8 585.9,318.1 585.8,321.5 585.8,324.9 585.7,328.3 585.7,331.7 585.7,335.1 585.8,338.4 585.9,341.8 586.0,345.2 586.2,348.6 586.3,352.0 586.5,355.5 586.8,358.8 587.1,362.2 587.4,365.4 587.7,368.5 588.2,371.4 588.6,374.3 589.1,377.1 589.7,379.8 590.2,382.4 590.8,385.0 591.5,387.5 592.2,389.9 592.9,392.2 593.7,394.4 594.5,396.6 595.4,398.7 596.3,400.7 597.2,402.5 598.1,404.3 599.1,406.0 600.1,407.7 601.2,409.3 602.3,410.9 603.5,412.4 604.8,414.0 606.2,415.5 607.7,416.9 609.4,418.4 611.1,419.8 612.9,421.3 614.7,422.6 616.5,423.9 618.4,425.2 620.2,426.4 622.0,427.6 623.8,428.7 625.6,429.7 627.4,430.7 629.3,431.6 631.1,432.5 632.9,433.3 634.7,434.1 636.4,434.7 638.0,435.4 639.5,435.9 640.9,436.4 642.2,436.7 643.3,437.0 644.4,437.3 645.4,437.4 646.4,437.6 647.4,437.6 648.4,437.7 649.4,437.7 650.6,437.6 651.8,437.5 653.1,437.4 654.3,437.3 655.5,437.1 656.7,436.8 657.9,436.5 659.1,436.2 660.2,435.8 661.3,435.3 662.4,434.7 663.5,434.0 664.7,433.2 665.9,432.3 667.1,431.3 668.3,430.3 669.5,429.2 670.6,428.0 671.6,426.8 672.6,425.6 673.5,424.3 674.4,422.9 675.2,421.4 676.0,419.8 676.8,418.1 677.5,416.4 678.2,414.6 678.8,412.8 679.4,411.1 679.9,409.3 680.3,407.7 680.7,406.1 681.0,404.6 681.2,403.1 681.3,401.5 681.5,400.0 681.5,398.5 681.6,397.0 681.5,395.5 681.5,394.0 681.4,392.6 681.3,391.1 681.1,389.8 681.0,388.4 680.7,387.1 680.4,385.8 680.1,384.5 679.8,383.2 679.4,381.9 678.9,380.5 678.4,379.1 677.9,377.8 677.3,376.4 676.7,375.0 675.9,373.6 675.2,372.1 674.4,370.6 673.6,369.1 672.7,367.5 671.8,365.9 671.0,364.3 670.1,362.7 669.1,361.0 668.2,359.3 667.2,357.5 666.1,355.7 665.1,354.0 664.1,352.2 663.1,350.4 662.2,348.6 661.3,346.9 660.5,345.3 659.7,343.8 658.9,342.2 658.2,340.7 657.4,339.2 656.7,337.6 656.1,336.0 655.4,334.3 654.8,332.6 654.3,330.8 653.9,328.9 653.5,326.9 653.2,324.9 652.9,322.8 652.6,320.8 652.5,318.8 652.3,316.9 652.2,315.0 652.1,313.3 651.9,311.6 651.7,310.1 651.6,308.6 651.5,307.2 651.5,305.8 651.6,304.6 651.6,303.4 651.6,302.3 651.7,301.3 651.8,300.4 651.9,299.6 651.9,298.6 652.0,297.6 652.1,296.7 652.2,295.7 652.3,294.9 652.3,294.0 652.4,293.3 652.5,292.6 652.5,292.0 652.6,291.6" fill="none" stroke="#3f3835" stroke-width="1.20" stroke-linejoin="round"/>
<polygon points="673.9,213.5 674.1,213.5 674.4,213.6 674.6,213.7 674.9,213.8 675.2,213.9 675.6,214.1 676.0,214.2 676.6,214.4 677.2,214.7 678.0,215.0 678.9,215.4 679.9,215.8 681.0,216.2 682.2,216.7 683.5,217.2 684.7,217.7 686.0,218.3 687.3,218.9 688.6,219.5 689.9,220.2 691.3,220.9 692.7,221.8 694.2,222.6 695.7,223.5 697.2,224.5 698.7,225.5 700.2,226.5 701.7,227.5 703.1,228.5 704.4,229.6 705.7,230.7 707.0,231.8 708.2,232.9 709.5,234.1 710.7,235.3 711.9,236.5 713.0,237.8 714.2,239.1 715.3,240.4 716.4,241.7 717.5,243.0 718.6,244.3 719.7,245.7 720.7,247.0 721.7,248.4 722.7,249.8 723.6,251.3 724.6,252.7 725.5,254.2 726.4,255.7 727.2,257.2 728.1,258.8 728.9,260.4 729.7,262.0 730.5,263.7 731.2,265.4 731.9,267.1 732.7,268.8 733.3,270.5 734.0,272.2 734.6,273.9 735.2,275.7 735.7,277.5 736.3,279.3 736.8,281.2 737.3,283.0 737.8,284.9 738.2,286.7 738.6,288.5 739.0,290.3 739.4,291.9 739.7,293.3 740.0,294.6 740.2,295.8 740.4,297.0 740.7,298.3 740.9,299.8 741.1,301.6 741.3,303.7 741.5,306.3 741.7,309.3 741.8,312.7 741.9,316.6 742.0,320.7 742.2,325.1 742.3,329.5 742.5,334.0 742.7,338.4 743.1,342.7 743.5,346.7 744.1,350.5 744.7,354.1 745.4,357.7 746.1,361.2 747.0,364.7 747.8,368.1 748.7,371.6 749.7,375.0 750.7,378.4 751.7,381.9 752.7,385.4 753.8,388.9 755.0,392.4 756.1,395.9 757.4,399.4 758.7,402.9 760.0,406.5 761.4,410.0 762.9,413.5 764.5,417.1 766.2,420.7 768.1,424.4 770.0,428.1 772.0,431.9 774.1,435.6 776.2,439.2 778.2,442.7 780.2,446.1 782.0,449.2 783.7,452.1 785.3,454.7 786.8,457.0 788.2,459.0 789.5,460.9 790.7,462.7 791.9,464.3 793.1,466.0 794.3,467.8 795.6,469.8 796.9,472.0 798.4,474.4 800.0,477.1 801.6,480.0 803.3,482.9 804.9,485.9 806.6,488.8 808.2,491.8 809.7,494.6 811.0,497.3 812.3,499.8 813.4,502.2 814.4,504.4 815.3,506.6 816.2,508.6 816.9,510.6 817.7,512.5 818.3,514.5 819.0,516.4 819.6,518.4 820.1,520.4 820.7,522.5 821.2,524.6 821.6,526.8 822.0,529.0 822.4,531.2 822.7,533.3 823.0,535.4 823.2,537.4 823.5,539.2 823.6,540.8 823.7,542.3 823.8,543.5 823.8,544.5 823.8,545.3 823.8,546.1 823.7,546.9 823.6,547.7 823.5,548.6 823.3,549.6 823.1,550.8 822.8,552.1 822.6,553.5 822.3,555.0 822.0,556.4 821.6,557.9 821.2,559.3 820.8,560.8 820.4,562.2 819.9,563.5 819.3,564.7 818.7,566.0 818.1,567.2 817.4,568.4 816.7,569.6 816.0,570.8 815.2,571.9 814.3,573.0 813.4,574.1 812.5,575.2 811.4,576.3 810.3,577.4 809.1,578.5 807.8,579.6 806.5,580.7 805.2,581.7 803.8,582.7 802.2,583.8 800.7,584.8 799.0,585.8 797.2,586.8 795.3,587.7 793.3,588.7 791.1,589.7 788.8,590.7 786.5,591.7 784.1,592.6 781.7,593.5 779.3,594.4 776.9,595.2 774.6,596.0 772.4,596.7 770.1,597.4 767.9,598.0 765.6,598.5 763.3,599.1 761.1,599.6 758.8,600.1 756.5,600.6 754.2,601.0 751.9,601.5 749.6,601.9 747.3,602.3 745.0,602.7 742.7,603.0 740.4,603.3 738.1,603.6 735.9,603.9 733.6,604.2 731.3,604.4 729.0,604.6 726.7,604.8 724.4,605.0 722.1,605.1 719.9,605.2 717.6,605.3 715.3,605.4 713.0,605.5 710.7,605.5 708.3,605.6 706.0,605.6 703.5,605.6 700.8,605.6 698.0,605.6 695.1,605.5 692.3,605.5 689.6,605.4 687.1,605.3 684.9,605.3 683.0,605.2 681.5,605.2 681.3,612.8 682.8,612.8 684.7,612.9 686.9,612.9 689.4,613.0 692.2,613.1 695.0,613.1 697.9,613.2 700.7,613.2 703.5,613.2 706.0,613.2 708.4,613.2 710.8,613.1 713.2,613.1 715.5,613.0 717.9,612.9 720.2,612.8 722.6,612.7 724.9,612.6 727.3,612.4 729.6,612.2 732.0,612.0 734.4,611.7 736.7,611.5 739.1,611.2 741.5,610.9 743.8,610.5 746.2,610.2 748.6,609.8 750.9,609.4 753.3,608.9 755.6,608.5 758.0,608.0 760.3,607.5 762.7,607.0 765.1,606.5 767.4,605.9 769.8,605.3 772.2,604.7 774.6,604.0 777.0,603.2 779.4,602.4 781.8,601.6 784.3,600.6 786.8,599.7 789.3,598.7 791.8,597.7 794.2,596.7 796.5,595.6 798.7,594.5 800.8,593.4 802.8,592.4 804.6,591.2 806.4,590.1 808.1,589.0 809.7,587.8 811.3,586.6 812.7,585.4 814.2,584.2 815.5,582.9 816.8,581.7 818.0,580.4 819.2,579.1 820.3,577.7 821.3,576.4 822.3,575.0 823.2,573.6 824.0,572.2 824.8,570.8 825.6,569.3 826.3,567.9 826.9,566.3 827.5,564.7 828.1,563.0 828.6,561.4 829.0,559.7 829.4,558.1 829.7,556.5 830.0,555.0 830.3,553.5 830.5,552.2 830.8,551.0 831.0,549.8 831.1,548.8 831.3,547.7 831.4,546.7 831.4,545.6 831.4,544.4 831.4,543.1 831.3,541.7 831.2,540.2 831.0,538.4 830.8,536.5 830.5,534.4 830.2,532.2 829.9,530.0 829.5,527.7 829.1,525.3 828.6,523.0 828.1,520.7 827.5,518.4 826.9,516.2 826.2,514.1 825.5,512.1 824.8,510.0 824.0,507.9 823.2,505.8 822.3,503.6 821.3,501.3 820.3,499.0 819.1,496.6 817.8,493.9 816.4,491.1 814.9,488.2 813.3,485.2 811.6,482.2 809.9,479.2 808.2,476.2 806.6,473.3 805.0,470.6 803.5,468.0 802.0,465.7 800.7,463.6 799.4,461.7 798.1,460.0 796.9,458.2 795.7,456.5 794.5,454.7 793.2,452.8 791.8,450.6 790.3,448.1 788.6,445.3 786.7,442.2 784.8,438.9 782.8,435.4 780.7,431.9 778.7,428.2 776.7,424.6 774.8,420.9 773.0,417.4 771.3,413.9 769.8,410.5 768.3,407.1 766.9,403.7 765.6,400.3 764.4,396.9 763.1,393.5 762.0,390.0 760.9,386.6 759.8,383.2 758.7,379.7 757.7,376.3 756.7,373.0 755.8,369.6 754.9,366.3 754.0,363.0 753.2,359.6 752.5,356.3 751.8,352.8 751.2,349.3 750.7,345.7 750.2,341.9 749.9,337.9 749.6,333.6 749.4,329.2 749.3,324.9 749.1,320.5 749.0,316.4 748.9,312.5 748.7,308.9 748.5,305.7 748.3,303.1 748.0,300.8 747.8,298.9 747.6,297.3 747.3,295.8 747.1,294.4 746.8,293.1 746.5,291.8 746.2,290.4 745.8,288.7 745.4,286.9 744.9,285.1 744.5,283.2 744.0,281.3 743.5,279.4 742.9,277.4 742.3,275.5 741.7,273.6 741.1,271.7 740.4,269.8 739.7,268.0 739.0,266.2 738.3,264.4 737.5,262.6 736.7,260.8 735.8,259.1 735.0,257.3 734.1,255.6 733.2,253.9 732.2,252.3 731.3,250.7 730.3,249.1 729.3,247.5 728.2,246.0 727.2,244.5 726.1,243.0 725.0,241.6 723.9,240.1 722.7,238.7 721.6,237.3 720.4,236.0 719.2,234.6 718.0,233.2 716.7,231.9 715.4,230.6 714.1,229.3 712.8,228.0 711.4,226.8 710.0,225.6 708.6,224.4 707.1,223.3 705.6,222.1 704.0,221.0 702.4,219.9 700.8,218.9 699.1,217.9 697.6,217.0 696.0,216.1 694.5,215.2 693.1,214.4 691.6,213.6 690.1,212.9 688.7,212.3 687.3,211.7 685.9,211.1 684.6,210.6 683.4,210.1 682.3,209.7 681.3,209.3 680.4,209.0 679.7,208.7 679.0,208.4 678.4,208.2 677.9,208.0 677.4,207.8 677.1,207.7 676.8,207.6 676.5,207.5 676.3,207.4 676.1,207.3" fill="#fff" stroke="none"/>
<polyline points="673.9,213.5 674.1,213.5 674.4,213.6 674.6,213.7 674.9,213.8 675.2,213.9 675.6,214.1 676.0,214.2 676.6,214.4 677.2,214.7 678.0,215.0 678.9,215.4 679.9,215.8 681.0,216.2 682.2,216.7 683.5,217.2 684.7,217.7 686.0,218.3 687.3,218.9 688.6,219.5 689.9,220.2 691.3,220.9 692.7,221.8 694.2,222.6 695.7,223.5 697.2,224.5 698.7,225.5 700.2,226.5 701.7,227.5 703.1,228.5 704.4,229.6 705.7,230.7 707.0,231.8 708.2,232.9 709.5,234.1 710.7,235.3 711.9,236.5 713.0,237.8 714.2,239.1 715.3,240.4 716.4,241.7 717.5,243.0 718.6,244.3 719.7,245.7 720.7,247.0 721.7,248.4 722.7,249.8 723.6,251.3 724.6,252.7 725.5,254.2 726.4,255.7 727.2,257.2 728.1,258.8 728.9,260.4 729.7,262.0 730.5,263.7 731.2,265.4 731.9,267.1 732.7,268.8 733.3,270.5 734.0,272.2 734.6,273.9 735.2,275.7 735.7,277.5 736.3,279.3 736.8,281.2 737.3,283.0 737.8,284.9 738.2,286.7 738.6,288.5 739.0,290.3 739.4,291.9 739.7,293.3 740.0,294.6 740.2,295.8 740.4,297.0 740.7,298.3 740.9,299.8 741.1,301.6 741.3,303.7 741.5,306.3 741.7,309.3 741.8,312.7 741.9,316.6 742.0,320.7 742.2,325.1 742.3,329.5 742.5,334.0 742.7,338.4 743.1,342.7 743.5,346.7 744.1,350.5 744.7,354.1 745.4,357.7 746.1,361.2 747.0,364.7 747.8,368.1 748.7,371.6 749.7,375.0 750.7,378.4 751.7,381.9 752.7,385.4 753.8,388.9 755.0,392.4 756.1,395.9 757.4,399.4 758.7,402.9 760.0,406.5 761.4,410.0 762.9,413.5 764.5,417.1 766.2,420.7 768.1,424.4 770.0,428.1 772.0,431.9 774.1,435.6 776.2,439.2 778.2,442.7 780.2,446.1 782.0,449.2 783.7,452.1 785.3,454.7 786.8,457.0 788.2,459.0 789.5,460.9 790.7,462.7 791.9,464.3 793.1,466.0 794.3,467.8 795.6,469.8 796.9,472.0 798.4,474.4 800.0,477.1 801.6,480.0 803.3,482.9 804.9,485.9 806.6,488.8 808.2,491.8 809.7,494.6 811.0,497.3 812.3,499.8 813.4,502.2 814.4,504.4 815.3,506.6 816.2,508.6 816.9,510.6 817.7,512.5 818.3,514.5 819.0,516.4 819.6,518.4 820.1,520.4 820.7,522.5 821.2,524.6 821.6,526.8 822.0,529.0 822.4,531.2 822.7,533.3 823.0,535.4 823.2,537.4 823.5,539.2 823.6,540.8 823.7,542.3 823.8,543.5 823.8,544.5 823.8,545.3 823.8,546.1 823.7,546.9 823.6,547.7 823.5,548.6 823.3,549.6 823.1,550.8 822.8,552.1 822.6,553.5 822.3,555.0 822.0,556.4 821.6,557.9 821.2,559.3 820.8,560.8 820.4,562.2 819.9,563.5 819.3,564.7 818.7,566.0 818.1,567.2 817.4,568.4 816.7,569.6 816.0,570.8 815.2,571.9 814.3,573.0 813.4,574.1 812.5,575.2 811.4,576.3 810.3,577.4 809.1,578.5 807.8,579.6 806.5,580.7 805.2,581.7 803.8,582.7 802.2,583.8 800.7,584.8 799.0,585.8 797.2,586.8 795.3,587.7 793.3,588.7 791.1,589.7 788.8,590.7 786.5,591.7 784.1,592.6 781.7,593.5 779.3,594.4 776.9,595.2 774.6,596.0 772.4,596.7 770.1,597.4 767.9,598.0 765.6,598.5 763.3,599.1 761.1,599.6 758.8,600.1 756.5,600.6 754.2,601.0 751.9,601.5 749.6,601.9 747.3,602.3 745.0,602.7 742.7,603.0 740.4,603.3 738.1,603.6 735.9,603.9 733.6,604.2 731.3,604.4 729.0,604.6 726.7,604.8 724.4,605.0 722.1,605.1 719.9,605.2 717.6,605.3 715.3,605.4 713.0,605.5 710.7,605.5 708.3,605.6 706.0,605.6 703.5,605.6 700.8,605.6 698.0,605.6 695.1,605.5 692.3,605.5 689.6,605.4 687.1,605.3 684.9,605.3 683.0,605.2 681.5,605.2" fill="none" stroke="#3f3835" stroke-width="1.20" stroke-linejoin="round"/>
<polyline points="676.1,207.3 676.3,207.4 676.5,207.5 676.8,207.6 677.1,207.7 677.4,207.8 677.9,208.0 678.4,208.2 679.0,208.4 679.7,208.7 680.4,209.0 681.3,209.3 682.3,209.7 683.4,210.1 684.6,210.6 685.9,211.1 687.3,211.7 688.7,212.3 690.1,212.9 691.6,213.6 693.1,214.4 694.5,215.2 696.0,216.1 697.6,217.0 699.1,217.9 700.8,218.9 702.4,219.9 704.0,221.0 705.6,222.1 707.1,223.3 708.6,224.4 710.0,225.6 711.4,226.8 712.8,228.0 714.1,229.3 715.4,230.6 716.7,231.9 718.0,233.2 719.2,234.6 720.4,236.0 721.6,237.3 722.7,238.7 723.9,240.1 725.0,241.6 726.1,243.0 727.2,244.5 728.2,246.0 729.3,247.5 730.3,249.1 731.3,250.7 732.2,252.3 733.2,253.9 734.1,255.6 735.0,257.3 735.8,259.1 736.7,260.8 737.5,262.6 738.3,264.4 739.0,266.2 739.7,268.0 740.4,269.8 741.1,271.7 741.7,273.6 742.3,275.5 742.9,277.4 743.5,279.4 744.0,281.3 744.5,283.2 744.9,285.1 745.4,286.9 745.8,288.7 746.2,290.4 746.5,291.8 746.8,293.1 747.1,294.4 747.3,295.8 747.6,297.3 747.8,298.9 748.0,300.8 748.3,303.1 748.5,305.7 748.7,308.9 748.9,312.5 749.0,316.4 749.1,320.5 749.3,324.9 749.4,329.2 749.6,333.6 749.9,337.9 750.2,341.9 750.7,345.7 751.2,349.3 751.8,352.8 752.5,356.3 753.2,359.6 754.0,363.0 754.9,366.3 755.8,369.6 756.7,373.0 757.7,376.3 758.7,379.7 759.8,383.2 760.9,386.6 762.0,390.0 763.1,393.5 764.4,396.9 765.6,400.3 766.9,403.7 768.3,407.1 769.8,410.5 771.3,413.9 773.0,417.4 774.8,420.9 776.7,424.6 778.7,428.2 780.7,431.9 782.8,435.4 784.8,438.9 786.7,442.2 788.6,445.3 790.3,448.1 791.8,450.6 793.2,452.8 794.5,454.7 795.7,456.5 796.9,458.2 798.1,460.0 799.4,461.7 800.7,463.6 802.0,465.7 803.5,468.0 805.0,470.6 806.6,473.3 808.2,476.2 809.9,479.2 811.6,482.2 813.3,485.2 814.9,488.2 816.4,491.1 817.8,493.9 819.1,496.6 820.3,499.0 821.3,501.3 822.3,503.6 823.2,505.8 824.0,507.9 824.8,510.0 825.5,512.1 826.2,514.1 826.9,516.2 827.5,518.4 828.1,520.7 828.6,523.0 829.1,525.3 829.5,527.7 829.9,530.0 830.2,532.2 830.5,534.4 830.8,536.5 831.0,538.4 831.2,540.2 831.3,541.7 831.4,543.1 831.4,544.4 831.4,545.6 831.4,546.7 831.3,547.7 831.1,548.8 831.0,549.8 830.8,551.0 830.5,552.2 830.3,553.5 830.0,555.0 829.7,556.5 829.4,558.1 829.0,559.7 828.6,561.4 828.1,563.0 827.5,564.7 826.9,566.3 826.3,567.9 825.6,569.3 824.8,570.8 824.0,572.2 823.2,573.6 822.3,575.0 821.3,576.4 820.3,577.7 819.2,579.1 818.0,580.4 816.8,581.7 815.5,582.9 814.2,584.2 812.7,585.4 811.3,586.6 809.7,587.8 808.1,589.0 806.4,590.1 804.6,591.2 802.8,592.4 800.8,593.4 798.7,594.5 796.5,595.6 794.2,596.7 791.8,597.7 789.3,598.7 786.8,599.7 784.3,600.6 781.8,601.6 779.4,602.4 777.0,603.2 774.6,604.0 772.2,604.7 769.8,605.3 767.4,605.9 765.1,606.5 762.7,607.0 760.3,607.5 758.0,608.0 755.6,608.5 753.3,608.9 750.9,609.4 748.6,609.8 746.2,610.2 743.8,610.5 741.5,610.9 739.1,611.2 736.7,611.5 734.4,611.7 732.0,612.0 729.6,612.2 727.3,612.4 724.9,612.6 722.6,612.7 720.2,612.8 717.9,612.9 715.5,613.0 713.2,613.1 710.8,613.1 708.4,613.2 706.0,613.2 703.5,613.2 700.7,613.2 697.9,613.2 695.0,613.1 692.2,613.1 689.4,613.0 686.9,612.9 684.7,612.9 682.8,612.8 681.3,612.8" fill="none" stroke="#3f3835" stroke-width="1.20" stroke-linejoin="round"/>
<polygon class="kw" points="649.8,623.3 654.4,616.4 662.8,616.4 667.3,623.3 663.1,630.4 654.6,630.4"/>
<circle class="kw" cx="658.6" cy="621.6" r="4.9"/>
<path d="M683.0,609.0 C681.7,609.0 677.8,609.1 675.0,609.3 C672.2,609.5 668.5,609.8 666.0,610.4 C663.5,611.0 661.3,612.0 659.8,613.2 C658.3,614.4 657.3,616.1 656.8,617.4 C656.3,618.7 656.9,620.4 656.9,621.0" fill="none" stroke="#3f3835" stroke-width="8.80" stroke-linecap="butt" stroke-linejoin="round"/>
<path d="M683.0,609.0 C681.7,609.0 677.8,609.1 675.0,609.3 C672.2,609.5 668.5,609.8 666.0,610.4 C663.5,611.0 661.3,612.0 659.8,613.2 C658.3,614.4 657.3,616.1 656.8,617.4 C656.3,618.7 656.9,620.4 656.9,621.0" fill="none" stroke="#fff" stroke-width="6.40" stroke-linecap="butt" stroke-linejoin="round"/>
<path d="M654.3,621 a4.6,4.6 0 0 0 2,3.6 l4,-2 l-0.6,-4 z" fill="#fff"/>
<path class="k" style="stroke-width:1.1" d="M661.6,615.4 C659.6,618 659.4,621.4 660.9,623.4"/>
<path class="kw" d="M636.6,260.3V203.2 A20.7,20.9 0 0 1 678,203.2 V260.3 Z"/>
<rect class="k" x="636.8" y="219.6" width="41" height="40.8" rx="2.4" style="stroke-width:1.5"/>
<circle class="kt" style="stroke-width:0.8" cx="643.8" cy="226.4" r="1.4"/>
<circle class="kt" style="stroke-width:0.8" cx="671.4" cy="226.2" r="1.4"/>
<circle class="kt" style="stroke-width:0.8" cx="643.8" cy="253.8" r="1.4"/>
<circle class="kt" style="stroke-width:0.8" cx="671.4" cy="253.8" r="1.4"/>
<path class="k" style="stroke-width:1.1" d="M648.6,225.6 A15.6,15.6 0 0 0 649,250.2 l2.2,3.2 M666.8,225.6 A15.6,15.6 0 0 1 666.4,250.2 l-1.2,-3.4"/>
<circle cx="645.9" cy="235.9" r="0.8" fill="#2b2624"/><circle cx="669" cy="235.9" r="0.8" fill="#2b2624"/>
<rect class="kw" x="649" y="223" width="16.2" height="9.2" rx="2.4" style="stroke-width:1.4"/>
<rect class="k" x="651.9" y="225.2" width="10.4" height="4.2" rx="1.8" style="stroke-width:1.1"/>
<path class="kw" style="stroke-width:1.2" d="M649.6,251 C649.4,254 648.9,256 648.5,258.2 C647.8,262 647,266 646.2,269.7 L644.4,277.8 C643.4,281 643.6,285 645.2,288.4 C647.6,292.6 652,294.8 657.5,294.8 C663,294.8 667.6,292.6 669.8,288.4 C671.4,285 671.6,281 670.6,277.8 L669.8,269.7 C669.2,266 668.6,262 668.1,258.2 C667.6,255 666.6,252 666,249.4" />
<path d="M650.2,249 H665.4 V254 H650.2 Z" fill="#fff"/>
<path class="k" style="stroke-width:1.2" d="M644.4,277.8 C648,270.4 667,270.4 670.6,277.8"/>
<path class="k" style="stroke-width:1" d="M645,280.6 C649,273.4 666,273.4 670,280.6"/>
<path class="k" style="stroke-width:1.1" d="M647,289.4 C650,282.6 665,282.6 668,289.4"/>
<rect class="k" style="stroke-width:1" x="648.6" y="281.9" width="2.6" height="4.6" rx="1" transform="rotate(-14 649.9 284.2)"/>
<rect class="k" style="stroke-width:1" x="656.2" y="279.1" width="2.6" height="4.6" rx="1" transform="rotate(0 657.5 281.4)"/>
<rect class="k" style="stroke-width:1" x="663.4" y="281.9" width="2.6" height="4.6" rx="1" transform="rotate(14 664.7 284.2)"/>
<path d="M652.6,297 C652.4,292 653,289.4 654.4,288 L660.6,288 C662,289.4 662.5,292 662.3,297 Z" fill="#fff"/>
<path class="k" style="stroke-width:1.15" d="M652.6,299 C652.3,293 652.8,289.6 654.4,287.6 M662.3,299 C662.6,293 662.1,289.6 660.6,287.6"/>
<path class="k" style="stroke-width:1.1" d="M651.4,289 C653.4,285.6 661.6,285.6 663.6,289"/>
<path class="d" d="M622,59.6H681.4 M596.8,706.5H707.6"/>
<polygon points="621.9,59.6 626.5,57.6 626.5,61.6" fill="#1a1a1a"/>
<polygon points="681.5,59.6 676.9,61.6 676.9,57.6" fill="#1a1a1a"/>
<polygon points="596.6,706.5 601.2,704.5 601.2,708.5" fill="#1a1a1a"/>
<polygon points="707.8,706.5 703.2,708.5 703.2,704.5" fill="#1a1a1a"/>
</g>
<g id="plan">
<defs><clipPath id="cpPlan"><rect x="958.3" y="95.5" width="228.4" height="152"/></clipPath></defs>
<g clip-path="url(#cpPlan)">
<rect class="br" x="971.6" y="102.8" width="22" height="6.1" rx="1"/>
<rect class="br" x="959.2" y="113.6" width="22" height="6.1" rx="1"/>
<rect class="br" x="996.4" y="102.8" width="22" height="6.1" rx="1"/>
<rect class="br" x="984.0" y="113.6" width="22" height="6.1" rx="1"/>
<rect class="br" x="1021.0" y="102.8" width="22" height="6.1" rx="1"/>
<rect class="br" x="1008.6" y="113.6" width="22" height="6.1" rx="1"/>
<rect class="br" x="1045.8" y="102.8" width="22" height="6.1" rx="1"/>
<rect class="br" x="1033.3" y="113.6" width="22" height="6.1" rx="1"/>
<rect class="br" x="1070.5" y="102.8" width="22" height="6.1" rx="1"/>
<rect class="br" x="1058.0" y="113.6" width="22" height="6.1" rx="1"/>
<rect class="br" x="1095.2" y="102.8" width="22" height="6.1" rx="1"/>
<rect class="br" x="1082.8" y="113.6" width="22" height="6.1" rx="1"/>
<rect class="br" x="1119.8" y="102.8" width="22" height="6.1" rx="1"/>
<rect class="br" x="1107.5" y="113.6" width="22" height="6.1" rx="1"/>
<rect class="br" x="1144.5" y="102.8" width="22" height="6.1" rx="1"/>
<rect class="br" x="1132.2" y="113.6" width="22" height="6.1" rx="1"/>
<rect class="br" x="1169.2" y="102.8" width="22" height="6.1" rx="1"/>
<rect class="br" x="1156.8" y="113.6" width="22" height="6.1" rx="1"/>
<rect class="br" x="971.6" y="123.0" width="22" height="6.1" rx="1"/>
<rect class="br" x="959.2" y="133.8" width="22" height="6.1" rx="1"/>
<rect class="br" x="996.4" y="123.0" width="22" height="6.1" rx="1"/>
<rect class="br" x="984.0" y="133.8" width="22" height="6.1" rx="1"/>
<rect class="br" x="1021.0" y="123.0" width="22" height="6.1" rx="1"/>
<rect class="br" x="1008.6" y="133.8" width="22" height="6.1" rx="1"/>
<rect class="br" x="1045.8" y="123.0" width="22" height="6.1" rx="1"/>
<rect class="br" x="1033.3" y="133.8" width="22" height="6.1" rx="1"/>
<rect class="br" x="1070.5" y="123.0" width="22" height="6.1" rx="1"/>
<rect class="br" x="1058.0" y="133.8" width="22" height="6.1" rx="1"/>
<rect class="br" x="1095.2" y="123.0" width="22" height="6.1" rx="1"/>
<rect class="br" x="1082.8" y="133.8" width="22" height="6.1" rx="1"/>
<rect class="br" x="1119.8" y="123.0" width="22" height="6.1" rx="1"/>
<rect class="br" x="1107.5" y="133.8" width="22" height="6.1" rx="1"/>
<rect class="br" x="1144.5" y="123.0" width="22" height="6.1" rx="1"/>
<rect class="br" x="1132.2" y="133.8" width="22" height="6.1" rx="1"/>
<rect class="br" x="1169.2" y="123.0" width="22" height="6.1" rx="1"/>
<rect class="br" x="1156.8" y="133.8" width="22" height="6.1" rx="1"/>
<rect class="br" x="971.6" y="143.2" width="22" height="6.1" rx="1"/>
<rect class="br" x="959.2" y="154.0" width="22" height="6.1" rx="1"/>
<rect class="br" x="996.4" y="143.2" width="22" height="6.1" rx="1"/>
<rect class="br" x="984.0" y="154.0" width="22" height="6.1" rx="1"/>
<rect class="br" x="1021.0" y="143.2" width="22" height="6.1" rx="1"/>
<rect class="br" x="1008.6" y="154.0" width="22" height="6.1" rx="1"/>
<rect class="br" x="1045.8" y="143.2" width="22" height="6.1" rx="1"/>
<rect class="br" x="1033.3" y="154.0" width="22" height="6.1" rx="1"/>
<rect class="br" x="1070.5" y="143.2" width="22" height="6.1" rx="1"/>
<rect class="br" x="1058.0" y="154.0" width="22" height="6.1" rx="1"/>
<rect class="br" x="1095.2" y="143.2" width="22" height="6.1" rx="1"/>
<rect class="br" x="1082.8" y="154.0" width="22" height="6.1" rx="1"/>
<rect class="br" x="1119.8" y="143.2" width="22" height="6.1" rx="1"/>
<rect class="br" x="1107.5" y="154.0" width="22" height="6.1" rx="1"/>
<rect class="br" x="1144.5" y="143.2" width="22" height="6.1" rx="1"/>
<rect class="br" x="1132.2" y="154.0" width="22" height="6.1" rx="1"/>
<rect class="br" x="1169.2" y="143.2" width="22" height="6.1" rx="1"/>
<rect class="br" x="1156.8" y="154.0" width="22" height="6.1" rx="1"/>
<rect class="br" x="971.6" y="163.3" width="22" height="6.1" rx="1"/>
<rect class="br" x="959.2" y="174.2" width="22" height="6.1" rx="1"/>
<rect class="br" x="996.4" y="163.3" width="22" height="6.1" rx="1"/>
<rect class="br" x="984.0" y="174.2" width="22" height="6.1" rx="1"/>
<rect class="br" x="1021.0" y="163.3" width="22" height="6.1" rx="1"/>
<rect class="br" x="1008.6" y="174.2" width="22" height="6.1" rx="1"/>
<rect class="br" x="1045.8" y="163.3" width="22" height="6.1" rx="1"/>
<rect class="br" x="1033.3" y="174.2" width="22" height="6.1" rx="1"/>
<rect class="br" x="1070.5" y="163.3" width="22" height="6.1" rx="1"/>
<rect class="br" x="1058.0" y="174.2" width="22" height="6.1" rx="1"/>
<rect class="br" x="1095.2" y="163.3" width="22" height="6.1" rx="1"/>
<rect class="br" x="1082.8" y="174.2" width="22" height="6.1" rx="1"/>
<rect class="br" x="1119.8" y="163.3" width="22" height="6.1" rx="1"/>
<rect class="br" x="1107.5" y="174.2" width="22" height="6.1" rx="1"/>
<rect class="br" x="1144.5" y="163.3" width="22" height="6.1" rx="1"/>
<rect class="br" x="1132.2" y="174.2" width="22" height="6.1" rx="1"/>
<rect class="br" x="1169.2" y="163.3" width="22" height="6.1" rx="1"/>
<rect class="br" x="1156.8" y="174.2" width="22" height="6.1" rx="1"/>
<rect class="br" x="971.6" y="183.4" width="22" height="6.1" rx="1"/>
<rect class="br" x="959.2" y="194.4" width="22" height="6.1" rx="1"/>
<rect class="br" x="996.4" y="183.4" width="22" height="6.1" rx="1"/>
<rect class="br" x="984.0" y="194.4" width="22" height="6.1" rx="1"/>
<rect class="br" x="1021.0" y="183.4" width="22" height="6.1" rx="1"/>
<rect class="br" x="1008.6" y="194.4" width="22" height="6.1" rx="1"/>
<rect class="br" x="1045.8" y="183.4" width="22" height="6.1" rx="1"/>
<rect class="br" x="1033.3" y="194.4" width="22" height="6.1" rx="1"/>
<rect class="br" x="1070.5" y="183.4" width="22" height="6.1" rx="1"/>
<rect class="br" x="1058.0" y="194.4" width="22" height="6.1" rx="1"/>
<rect class="br" x="1095.2" y="183.4" width="22" height="6.1" rx="1"/>
<rect class="br" x="1082.8" y="194.4" width="22" height="6.1" rx="1"/>
<rect class="br" x="1119.8" y="183.4" width="22" height="6.1" rx="1"/>
<rect class="br" x="1107.5" y="194.4" width="22" height="6.1" rx="1"/>
<rect class="br" x="1144.5" y="183.4" width="22" height="6.1" rx="1"/>
<rect class="br" x="1132.2" y="194.4" width="22" height="6.1" rx="1"/>
<rect class="br" x="1169.2" y="183.4" width="22" height="6.1" rx="1"/>
<rect class="br" x="1156.8" y="194.4" width="22" height="6.1" rx="1"/>
<rect class="br" x="971.6" y="203.6" width="22" height="6.1" rx="1"/>
<rect class="br" x="959.2" y="214.7" width="22" height="6.1" rx="1"/>
<rect class="br" x="996.4" y="203.6" width="22" height="6.1" rx="1"/>
<rect class="br" x="984.0" y="214.7" width="22" height="6.1" rx="1"/>
<rect class="br" x="1021.0" y="203.6" width="22" height="6.1" rx="1"/>
<rect class="br" x="1008.6" y="214.7" width="22" height="6.1" rx="1"/>
<rect class="br" x="1045.8" y="203.6" width="22" height="6.1" rx="1"/>
<rect class="br" x="1033.3" y="214.7" width="22" height="6.1" rx="1"/>
<rect class="br" x="1070.5" y="203.6" width="22" height="6.1" rx="1"/>
<rect class="br" x="1058.0" y="214.7" width="22" height="6.1" rx="1"/>
<rect class="br" x="1095.2" y="203.6" width="22" height="6.1" rx="1"/>
<rect class="br" x="1082.8" y="214.7" width="22" height="6.1" rx="1"/>
<rect class="br" x="1119.8" y="203.6" width="22" height="6.1" rx="1"/>
<rect class="br" x="1107.5" y="214.7" width="22" height="6.1" rx="1"/>
<rect class="br" x="1144.5" y="203.6" width="22" height="6.1" rx="1"/>
<rect class="br" x="1132.2" y="214.7" width="22" height="6.1" rx="1"/>
<rect class="br" x="1169.2" y="203.6" width="22" height="6.1" rx="1"/>
<rect class="br" x="1156.8" y="214.7" width="22" height="6.1" rx="1"/>
<rect class="br" x="971.6" y="223.7" width="22" height="6.1" rx="1"/>
<rect class="br" x="959.2" y="234.8" width="22" height="6.1" rx="1"/>
<rect class="br" x="996.4" y="223.7" width="22" height="6.1" rx="1"/>
<rect class="br" x="984.0" y="234.8" width="22" height="6.1" rx="1"/>
<rect class="br" x="1021.0" y="223.7" width="22" height="6.1" rx="1"/>
<rect class="br" x="1008.6" y="234.8" width="22" height="6.1" rx="1"/>
<rect class="br" x="1045.8" y="223.7" width="22" height="6.1" rx="1"/>
<rect class="br" x="1033.3" y="234.8" width="22" height="6.1" rx="1"/>
<rect class="br" x="1070.5" y="223.7" width="22" height="6.1" rx="1"/>
<rect class="br" x="1058.0" y="234.8" width="22" height="6.1" rx="1"/>
<rect class="br" x="1095.2" y="223.7" width="22" height="6.1" rx="1"/>
<rect class="br" x="1082.8" y="234.8" width="22" height="6.1" rx="1"/>
<rect class="br" x="1119.8" y="223.7" width="22" height="6.1" rx="1"/>
<rect class="br" x="1107.5" y="234.8" width="22" height="6.1" rx="1"/>
<rect class="br" x="1144.5" y="223.7" width="22" height="6.1" rx="1"/>
<rect class="br" x="1132.2" y="234.8" width="22" height="6.1" rx="1"/>
<rect class="br" x="1169.2" y="223.7" width="22" height="6.1" rx="1"/>
<rect class="br" x="1156.8" y="234.8" width="22" height="6.1" rx="1"/>
</g>
<rect class="g" x="958.3" y="95.5" width="228.4" height="152"/>
<rect class="gw" x="981.2" y="119.2" width="182.1" height="105.8" style="stroke-width:0.9"/>
<rect class="g" x="1005.5" y="143.3" width="133.7" height="57.2" style="stroke-width:0.9"/>
<path class="g" style="stroke-width:0.9" d="M981.2,119.2L1005.5,143.3 M1163.3,119.2L1139.2,143.3 M981.2,225L1005.5,200.5 M1163.3,225L1139.2,200.5"/>
<rect class="g" x="1033" y="153.7" width="78.7" height="36.3" rx="18.15" style="stroke-width:0.9"/>
<ellipse class="g" cx="1019.7" cy="130.8" rx="9.2" ry="8.4" transform="rotate(-20 1019.7 130.8)"/>
<circle class="g" cx="1019.7" cy="130.8" r="3.1"/>
<path class="g" style="stroke-width:0.5" d="M1019.7,129.3v3 M1018.2,130.8h3"/>
<ellipse class="g" cx="1124.7" cy="130.8" rx="9.2" ry="8.4" transform="rotate(-20 1124.7 130.8)"/>
<circle class="g" cx="1124.7" cy="130.8" r="3.1"/>
<path class="g" style="stroke-width:0.5" d="M1124.7,129.3v3 M1123.2,130.8h3"/>
<ellipse class="g" cx="1019.7" cy="212.8" rx="9.2" ry="8.4" transform="rotate(-20 1019.7 212.8)"/>
<circle class="g" cx="1019.7" cy="212.8" r="3.1"/>
<path class="g" style="stroke-width:0.5" d="M1019.7,211.3v3 M1018.2,212.8h3"/>
<ellipse class="g" cx="1124.7" cy="212.8" rx="9.2" ry="8.4" transform="rotate(-20 1124.7 212.8)"/>
<circle class="g" cx="1124.7" cy="212.8" r="3.1"/>
<path class="g" style="stroke-width:0.5" d="M1124.7,211.3v3 M1123.2,212.8h3"/>
<path class="gl" stroke-dasharray="18 3.5 4 3.5" d="M1072.3,95.5V247.5"/>
<path class="gl" stroke-dasharray="18 3.5 4 3.5" d="M958.3,172.1H1186.7"/>
<path class="gl" style="stroke-width:0.5;stroke:#bbb" d="M1087,159.7L1100,150"/>
<circle class="g" cx="1087" cy="159.8" r="2.4"/><path class="g" d="M1084.6,162.4L1089.4,157.2"/>
<path class="g" style="stroke-width:0.9" d="M1080.5,161.7L1108,183.3"/>
<polygon points="1108.0,183.3 1101.5,179.6 1102.9,177.9" fill="#2a2a2a"/>
<path class="g" d="M980.3,70V119.2 M1164.5,70V119.2 M980.3,71.3H1164.5 M1019.5,87V130.8 M1124.8,87V130.8 M1019.5,88.3H1124.8"/>
<polygon points="980.3,71.3 987.7,70.2 987.7,72.4" fill="#2a2a2a"/>
<polygon points="1164.5,71.3 1157.1,72.4 1157.1,70.2" fill="#2a2a2a"/>
<polygon points="1019.5,88.3 1026.9,87.2 1026.9,89.4" fill="#2a2a2a"/>
<polygon points="1124.8,88.3 1117.4,89.4 1117.4,87.2" fill="#2a2a2a"/>
<path class="g" d="M919.7,119.2H981.2 M919.7,225H981.2 M920.8,119.2V225 M937,130.8H1019.5 M937,212.8H1019.5 M937.8,130.8V212.8"/>
<polygon points="920.8,119.2 921.9,126.6 919.7,126.6" fill="#2a2a2a"/>
<polygon points="920.8,225.0 919.7,217.6 921.9,217.6" fill="#2a2a2a"/>
<polygon points="937.8,130.8 938.9,138.2 936.7,138.2" fill="#2a2a2a"/>
<polygon points="937.8,212.8 936.7,205.4 938.9,205.4" fill="#2a2a2a"/>
<path class="g" d="M1186.7,95.5H1214.5 M1186.7,247.5H1214.5 M1212.8,95.5V247.5 M958.3,247.5V266 M1186.7,247.5V266 M958.3,265H1186.7"/>
<polygon points="1212.8,95.5 1213.9,102.9 1211.7,102.9" fill="#2a2a2a"/>
<polygon points="1212.8,247.5 1211.7,240.1 1213.9,240.1" fill="#2a2a2a"/>
<polygon points="958.3,265.0 965.7,263.9 965.7,266.1" fill="#2a2a2a"/>
<polygon points="1186.7,265.0 1179.3,266.1 1179.3,263.9" fill="#2a2a2a"/>
<text class="sm" x="1071.7" y="68.8" text-anchor="middle">410</text>
<text class="sm" x="1071.7" y="85.9" text-anchor="middle">235</text>
<text class="sm" x="1071.7" y="262.1" text-anchor="middle">510</text>
<text class="sm" transform="translate(919.2,172.2) rotate(-90)" text-anchor="middle">240</text>
<text class="sm" transform="translate(935.9,171.6) rotate(-90)" text-anchor="middle">184</text>
<text class="sm" transform="translate(1211.2,172.2) rotate(-90)" text-anchor="middle">340</text>
<path class="g" style="stroke-width:0.9" d="M1127.8,128.3L1208.7,69.7H1258.7"/>
<polygon points="1127.8,128.3 1133.1,123.1 1134.4,124.9" fill="#2a2a2a"/>
<text class="sm" style="font-size:8px;fill:#555" x="1212.6" y="67.8">4-</text>
<circle class="g" cx="1221.3" cy="65.6" r="1.6" style="stroke-width:0.6"/><path class="g" style="stroke-width:0.6" d="M1219.7,67.8L1222.9,63.4"/>
<text class="sm" style="font-size:8px;fill:#555" x="1224" y="67.8">14</text>
<path d="M1237.56,61.94L1240.26,61.94M1240.26,61.94L1239.00,63.20M1239.00,63.20L1239.72,63.74M1237.38,64.46L1240.62,64.46M1240.62,64.46L1240.08,65.36M1239.00,64.46L1239.00,68.42M1239.00,68.42L1238.28,67.88M1240.98,61.94L1244.40,61.94M1242.60,61.94L1242.24,63.02M1241.52,63.02L1244.04,63.02M1241.52,63.02L1241.52,66.44M1244.04,63.02L1244.04,66.44M1241.52,66.44L1244.04,66.44M1242.78,63.74L1242.78,66.62M1242.78,66.62L1240.98,68.42M1243.14,66.98L1244.40,68.42M1245.38,63.74L1247.90,63.74M1246.64,61.94L1246.64,67.16M1245.29,67.70L1248.08,66.80M1248.80,61.94L1252.22,61.94M1248.80,61.94L1248.80,65.00M1252.22,61.94L1252.22,65.00M1248.80,63.47L1252.22,63.47M1248.80,65.00L1252.22,65.00M1250.51,61.94L1250.51,68.24M1248.98,66.62L1252.04,66.62M1248.26,68.24L1252.40,68.24" fill="none" stroke="#1c1c1c" stroke-width="1.15" stroke-linecap="round"><title>预埋</title></path>
<path d="M1207.87,72.17L1209.26,72.17M1207.87,72.17L1207.87,76.35M1207.87,76.35L1207.48,77.75M1209.26,72.17L1209.26,77.75M1207.87,73.56L1209.26,73.56M1207.87,74.95L1209.26,74.95M1209.88,72.48L1211.89,72.48M1210.89,71.78L1210.89,73.09M1209.88,73.09L1211.89,73.09M1210.11,73.87L1211.66,73.87M1210.11,73.87L1210.11,75.11M1211.66,73.87L1211.66,75.11M1210.11,75.11L1211.66,75.11M1210.35,75.73L1210.58,76.66M1211.51,75.73L1211.28,76.66M1209.73,77.28L1212.05,77.12M1213.45,72.01L1212.36,73.25M1213.52,73.87L1212.36,75.27M1213.60,75.73L1212.05,77.75M1214.77,72.17L1216.32,72.17M1214.77,72.17L1214.77,76.35M1214.77,76.35L1214.38,77.75M1216.32,72.17L1216.32,77.75M1214.77,73.56L1216.32,73.56M1214.77,74.95L1216.32,74.95M1217.71,71.86L1217.71,77.75M1217.71,77.75L1218.49,77.12M1220.04,72.01L1218.18,73.72M1216.94,74.49L1220.50,74.49M1218.33,74.49L1220.50,77.75M1219.42,75.58L1220.35,75.11M1221.51,72.94L1223.22,72.94M1221.51,72.94L1221.51,74.95M1223.22,72.94L1223.22,74.95M1221.51,74.95L1223.22,74.95M1222.36,71.93L1222.36,76.81M1221.28,77.12L1223.53,76.51M1223.22,76.04L1223.53,76.81M1224.14,72.01L1227.25,72.01M1224.14,72.01L1224.14,74.03M1227.25,72.01L1227.25,74.03M1224.14,73.02L1227.25,73.02M1224.14,74.03L1227.25,74.03M1225.69,72.01L1225.69,74.03M1225.54,74.34L1224.46,75.27M1224.46,75.27L1226.47,75.11M1226.47,75.11L1224.61,76.20M1224.61,76.20L1226.93,76.04M1225.69,76.20L1225.69,77.75M1224.61,76.81L1223.99,77.59M1226.78,76.81L1227.40,77.59M1229.65,71.86L1228.57,73.25M1228.57,73.25L1230.12,73.09M1230.12,73.09L1228.41,75.27M1228.41,75.27L1230.58,74.95M1232.44,71.86L1231.51,73.25M1231.51,73.25L1233.06,73.09M1233.06,73.09L1231.36,75.27M1231.36,75.27L1233.84,74.95M1233.37,74.34L1233.99,75.58M1228.10,77.28L1234.30,77.28" fill="none" stroke="#666" stroke-width="0.60" stroke-linecap="round"><title>膨胀螺丝</title></path>
<text class="sm" style="font-size:8.2px;fill:#555" x="1235.6" y="77.7">4-M12</text>
</g>
<g id="elev">
<path class="gw" d="M980.6,344.2V313.5L1005.6,299.2H1139.5L1163.7,313.5V344.2Z"/>
<path class="g" d="M980.6,313.5H1163.7"/>
<ellipse class="g" cx="1019.6" cy="306" rx="9.4" ry="4.6"/><ellipse class="g" cx="1124.7" cy="306" rx="9.4" ry="4.6"/>
<path class="g" d="M1018.4,344.2a1.2,1.2 0 0 1 2.4,0 M1123.5,344.2a1.2,1.2 0 0 1 2.4,0"/>
<rect class="gw" x="958.5" y="344.2" width="228.1" height="89.1"/>
<rect class="br" x="971.9" y="346.6" width="22" height="6.6" rx="1.4"/>
<rect class="br" x="961.9" y="357.6" width="22.2" height="6.6" rx="1.4"/>
<rect class="br" x="998.8" y="346.6" width="22" height="6.6" rx="1.4"/>
<rect class="br" x="988.8" y="357.6" width="22.2" height="6.6" rx="1.4"/>
<rect class="br" x="1025.7" y="346.6" width="22" height="6.6" rx="1.4"/>
<rect class="br" x="1015.6" y="357.6" width="22.2" height="6.6" rx="1.4"/>
<rect class="br" x="1052.5" y="346.6" width="22" height="6.6" rx="1.4"/>
<rect class="br" x="1042.5" y="357.6" width="22.2" height="6.6" rx="1.4"/>
<rect class="br" x="1079.5" y="346.6" width="22" height="6.6" rx="1.4"/>
<rect class="br" x="1069.5" y="357.6" width="22.2" height="6.6" rx="1.4"/>
<rect class="br" x="1106.3" y="346.6" width="22" height="6.6" rx="1.4"/>
<rect class="br" x="1096.3" y="357.6" width="22.2" height="6.6" rx="1.4"/>
<rect class="br" x="1133.2" y="346.6" width="22" height="6.6" rx="1.4"/>
<rect class="br" x="1123.2" y="357.6" width="22.2" height="6.6" rx="1.4"/>
<rect class="br" x="1160.2" y="346.6" width="22" height="6.6" rx="1.4"/>
<rect class="br" x="1150.2" y="357.6" width="22.2" height="6.6" rx="1.4"/>
<rect class="br" x="971.9" y="368.9" width="22" height="6.6" rx="1.4"/>
<rect class="br" x="961.9" y="379.9" width="22.2" height="6.6" rx="1.4"/>
<rect class="br" x="998.8" y="368.9" width="22" height="6.6" rx="1.4"/>
<rect class="br" x="988.8" y="379.9" width="22.2" height="6.6" rx="1.4"/>
<rect class="br" x="1025.7" y="368.9" width="22" height="6.6" rx="1.4"/>
<rect class="br" x="1015.6" y="379.9" width="22.2" height="6.6" rx="1.4"/>
<rect class="br" x="1052.5" y="368.9" width="22" height="6.6" rx="1.4"/>
<rect class="br" x="1042.5" y="379.9" width="22.2" height="6.6" rx="1.4"/>
<rect class="br" x="1079.5" y="368.9" width="22" height="6.6" rx="1.4"/>
<rect class="br" x="1069.5" y="379.9" width="22.2" height="6.6" rx="1.4"/>
<rect class="br" x="1106.3" y="368.9" width="22" height="6.6" rx="1.4"/>
<rect class="br" x="1096.3" y="379.9" width="22.2" height="6.6" rx="1.4"/>
<rect class="br" x="1133.2" y="368.9" width="22" height="6.6" rx="1.4"/>
<rect class="br" x="1123.2" y="379.9" width="22.2" height="6.6" rx="1.4"/>
<rect class="br" x="1160.2" y="368.9" width="22" height="6.6" rx="1.4"/>
<rect class="br" x="1150.2" y="379.9" width="22.2" height="6.6" rx="1.4"/>
<rect class="br" x="971.9" y="391.2" width="22" height="6.6" rx="1.4"/>
<rect class="br" x="961.9" y="402.2" width="22.2" height="6.6" rx="1.4"/>
<rect class="br" x="998.8" y="391.2" width="22" height="6.6" rx="1.4"/>
<rect class="br" x="988.8" y="402.2" width="22.2" height="6.6" rx="1.4"/>
<rect class="br" x="1025.7" y="391.2" width="22" height="6.6" rx="1.4"/>
<rect class="br" x="1015.6" y="402.2" width="22.2" height="6.6" rx="1.4"/>
<rect class="br" x="1052.5" y="391.2" width="22" height="6.6" rx="1.4"/>
<rect class="br" x="1042.5" y="402.2" width="22.2" height="6.6" rx="1.4"/>
<rect class="br" x="1079.5" y="391.2" width="22" height="6.6" rx="1.4"/>
<rect class="br" x="1069.5" y="402.2" width="22.2" height="6.6" rx="1.4"/>
<rect class="br" x="1106.3" y="391.2" width="22" height="6.6" rx="1.4"/>
<rect class="br" x="1096.3" y="402.2" width="22.2" height="6.6" rx="1.4"/>
<rect class="br" x="1133.2" y="391.2" width="22" height="6.6" rx="1.4"/>
<rect class="br" x="1123.2" y="402.2" width="22.2" height="6.6" rx="1.4"/>
<rect class="br" x="1160.2" y="391.2" width="22" height="6.6" rx="1.4"/>
<rect class="br" x="1150.2" y="402.2" width="22.2" height="6.6" rx="1.4"/>
<rect class="br" x="971.9" y="413.5" width="22" height="6.6" rx="1.4"/>
<rect class="br" x="961.9" y="424.5" width="22.2" height="6.6" rx="1.4"/>
<rect class="br" x="998.8" y="413.5" width="22" height="6.6" rx="1.4"/>
<rect class="br" x="988.8" y="424.5" width="22.2" height="6.6" rx="1.4"/>
<rect class="br" x="1025.7" y="413.5" width="22" height="6.6" rx="1.4"/>
<rect class="br" x="1015.6" y="424.5" width="22.2" height="6.6" rx="1.4"/>
<rect class="br" x="1052.5" y="413.5" width="22" height="6.6" rx="1.4"/>
<rect class="br" x="1042.5" y="424.5" width="22.2" height="6.6" rx="1.4"/>
<rect class="br" x="1079.5" y="413.5" width="22" height="6.6" rx="1.4"/>
<rect class="br" x="1069.5" y="424.5" width="22.2" height="6.6" rx="1.4"/>
<rect class="br" x="1106.3" y="413.5" width="22" height="6.6" rx="1.4"/>
<rect class="br" x="1096.3" y="424.5" width="22.2" height="6.6" rx="1.4"/>
<rect class="br" x="1133.2" y="413.5" width="22" height="6.6" rx="1.4"/>
<rect class="br" x="1123.2" y="424.5" width="22.2" height="6.6" rx="1.4"/>
<rect class="br" x="1160.2" y="413.5" width="22" height="6.6" rx="1.4"/>
<rect class="br" x="1150.2" y="424.5" width="22.2" height="6.6" rx="1.4"/>
<path class="g" d="M931.5,344.2H958.5 M931.5,433.3H958.5 M933.5,344.2V433.3"/>
<polygon points="933.5,344.2 934.6,351.6 932.4,351.6" fill="#2a2a2a"/>
<polygon points="933.5,433.3 932.4,425.9 934.6,425.9" fill="#2a2a2a"/>
<text class="ss" transform="translate(930.8,388.4) rotate(-90)" text-anchor="middle">200</text>
<path class="g" d="M1175,388.5L1199.7,357.9H1241"/>
<polygon points="1175.0,388.5 1178.8,382.1 1180.5,383.4" fill="#2a2a2a"/>
<path d="M1196.51,346.82L1197.54,347.65M1196.20,349.08L1197.23,349.90M1196.31,353.49L1197.64,351.13M1199.08,346.42L1203.59,346.42M1199.08,346.42L1199.08,349.49M1203.59,346.42L1203.59,349.49M1199.08,347.95L1203.59,347.95M1199.08,349.49L1203.59,349.49M1199.28,350.31L1199.28,353.59M1199.28,351.95L1200.92,351.34M1199.28,353.59L1200.92,352.98M1201.94,350.31L1201.94,353.38M1201.94,353.38L1204.20,353.38M1201.94,351.75L1203.79,350.93M1206.21,347.34L1207.23,348.36M1206.11,352.98L1207.34,350.93M1208.16,346.62L1209.80,346.21M1208.16,346.21L1208.16,347.85M1208.16,347.85L1210.00,347.85M1207.95,348.88L1210.21,348.88M1209.08,348.88L1209.08,350.93M1207.95,350.93L1210.21,350.93M1209.08,350.93L1207.95,353.80M1209.08,351.54L1210.41,353.80M1211.03,346.42L1213.69,346.42M1213.69,346.42L1212.46,347.65M1211.03,348.47L1214.10,348.47M1212.56,348.47L1212.56,353.80M1212.56,350.51L1214.10,350.51M1211.44,349.90L1211.03,352.98M1211.03,352.98L1214.10,353.80M1216.83,348.88L1222.97,348.88M1219.90,346.82L1219.90,352.98M1215.80,352.98L1224.00,352.98M1226.73,347.03L1232.88,347.03M1228.26,345.80L1228.26,350.31M1231.34,345.80L1231.34,350.31M1228.26,348.16L1231.34,348.16M1228.26,349.18L1231.34,349.18M1225.70,350.31L1233.90,350.31M1228.26,350.31L1226.01,352.46M1231.34,350.31L1233.69,352.46M1228.16,352.16L1231.44,352.16M1229.80,351.13L1229.80,353.80M1226.73,353.80L1232.88,353.80M1239.70,345.80L1239.70,346.82M1236.62,346.82L1243.80,346.82M1236.62,346.82L1236.62,350.93M1236.62,350.93L1235.60,354.00M1238.88,348.36L1238.06,350.11M1238.06,350.11L1239.29,349.90M1242.16,348.36L1241.34,350.11M1241.34,350.11L1242.77,349.90M1240.72,347.85L1240.72,353.59M1238.47,351.34L1243.18,351.34M1237.65,353.59L1243.80,353.59" fill="none" stroke="#5a5a5a" stroke-width="0.60" stroke-linecap="round"><title>混凝土基座</title></path>
</g>
<g id="iso">
<defs><clipPath id="cpTop"><polygon points="962.7,538.5 1186.2,560.8 1158.8,635.4 934.5,613.3"/></clipPath></defs>
<polygon class="gw" points="962.7,538.5 1186.2,560.8 1158.8,635.4 934.5,613.3" />
<g clip-path="url(#cpTop)"><g transform="matrix(0.4388,0.04333,-0.08294,0.22,962.7,538.5)">
<rect x="1.3" y="322.0" width="49.5" height="14.5" fill="#c6c6c6" stroke="#a8a8a8" stroke-width="0.4" vector-effect="non-scaling-stroke"/>
<path d="M1.3,322.0H50.8" fill="none" stroke="#3a3a3a" stroke-width="0.8" vector-effect="non-scaling-stroke"/>
<path d="M2.1,322.0v11" fill="none" stroke="#222" stroke-width="1.3" vector-effect="non-scaling-stroke"/>
<rect x="56.3" y="322.0" width="49.5" height="14.5" fill="#c6c6c6" stroke="#a8a8a8" stroke-width="0.4" vector-effect="non-scaling-stroke"/>
<path d="M56.3,322.0H105.8" fill="none" stroke="#3a3a3a" stroke-width="0.8" vector-effect="non-scaling-stroke"/>
<path d="M57.1,322.0v11" fill="none" stroke="#222" stroke-width="1.3" vector-effect="non-scaling-stroke"/>
<rect x="111.3" y="322.0" width="49.5" height="14.5" fill="#c6c6c6" stroke="#a8a8a8" stroke-width="0.4" vector-effect="non-scaling-stroke"/>
<path d="M111.3,322.0H160.8" fill="none" stroke="#3a3a3a" stroke-width="0.8" vector-effect="non-scaling-stroke"/>
<path d="M112.1,322.0v11" fill="none" stroke="#222" stroke-width="1.3" vector-effect="non-scaling-stroke"/>
<rect x="166.3" y="322.0" width="49.5" height="14.5" fill="#c6c6c6" stroke="#a8a8a8" stroke-width="0.4" vector-effect="non-scaling-stroke"/>
<path d="M166.3,322.0H215.8" fill="none" stroke="#3a3a3a" stroke-width="0.8" vector-effect="non-scaling-stroke"/>
<path d="M167.1,322.0v11" fill="none" stroke="#222" stroke-width="1.3" vector-effect="non-scaling-stroke"/>
<rect x="221.3" y="322.0" width="49.5" height="14.5" fill="#c6c6c6" stroke="#a8a8a8" stroke-width="0.4" vector-effect="non-scaling-stroke"/>
<path d="M221.3,322.0H270.8" fill="none" stroke="#3a3a3a" stroke-width="0.8" vector-effect="non-scaling-stroke"/>
<path d="M222.1,322.0v11" fill="none" stroke="#222" stroke-width="1.3" vector-effect="non-scaling-stroke"/>
<rect x="276.3" y="322.0" width="49.5" height="14.5" fill="#c6c6c6" stroke="#a8a8a8" stroke-width="0.4" vector-effect="non-scaling-stroke"/>
<path d="M276.3,322.0H325.8" fill="none" stroke="#3a3a3a" stroke-width="0.8" vector-effect="non-scaling-stroke"/>
<path d="M277.1,322.0v11" fill="none" stroke="#222" stroke-width="1.3" vector-effect="non-scaling-stroke"/>
<rect x="331.3" y="322.0" width="49.5" height="14.5" fill="#c6c6c6" stroke="#a8a8a8" stroke-width="0.4" vector-effect="non-scaling-stroke"/>
<path d="M331.3,322.0H380.8" fill="none" stroke="#3a3a3a" stroke-width="0.8" vector-effect="non-scaling-stroke"/>
<path d="M332.1,322.0v11" fill="none" stroke="#222" stroke-width="1.3" vector-effect="non-scaling-stroke"/>
<rect x="386.3" y="322.0" width="49.5" height="14.5" fill="#c6c6c6" stroke="#a8a8a8" stroke-width="0.4" vector-effect="non-scaling-stroke"/>
<path d="M386.3,322.0H435.8" fill="none" stroke="#3a3a3a" stroke-width="0.8" vector-effect="non-scaling-stroke"/>
<path d="M387.1,322.0v11" fill="none" stroke="#222" stroke-width="1.3" vector-effect="non-scaling-stroke"/>
<rect x="441.3" y="322.0" width="49.5" height="14.5" fill="#c6c6c6" stroke="#a8a8a8" stroke-width="0.4" vector-effect="non-scaling-stroke"/>
<path d="M441.3,322.0H490.8" fill="none" stroke="#3a3a3a" stroke-width="0.8" vector-effect="non-scaling-stroke"/>
<path d="M442.1,322.0v11" fill="none" stroke="#222" stroke-width="1.3" vector-effect="non-scaling-stroke"/>
<rect x="496.3" y="322.0" width="49.5" height="14.5" fill="#c6c6c6" stroke="#a8a8a8" stroke-width="0.4" vector-effect="non-scaling-stroke"/>
<path d="M496.3,322.0H545.8" fill="none" stroke="#3a3a3a" stroke-width="0.8" vector-effect="non-scaling-stroke"/>
<path d="M497.1,322.0v11" fill="none" stroke="#222" stroke-width="1.3" vector-effect="non-scaling-stroke"/>
<rect x="29.0" y="298.5" width="49.5" height="14.5" fill="#c6c6c6" stroke="#a8a8a8" stroke-width="0.4" vector-effect="non-scaling-stroke"/>
<path d="M29.0,298.5H78.5" fill="none" stroke="#3a3a3a" stroke-width="0.8" vector-effect="non-scaling-stroke"/>
<path d="M29.8,298.5v11" fill="none" stroke="#222" stroke-width="1.3" vector-effect="non-scaling-stroke"/>
<rect x="84.0" y="298.5" width="49.5" height="14.5" fill="#c6c6c6" stroke="#a8a8a8" stroke-width="0.4" vector-effect="non-scaling-stroke"/>
<path d="M84.0,298.5H133.5" fill="none" stroke="#3a3a3a" stroke-width="0.8" vector-effect="non-scaling-stroke"/>
<path d="M84.8,298.5v11" fill="none" stroke="#222" stroke-width="1.3" vector-effect="non-scaling-stroke"/>
<rect x="139.0" y="298.5" width="49.5" height="14.5" fill="#c6c6c6" stroke="#a8a8a8" stroke-width="0.4" vector-effect="non-scaling-stroke"/>
<path d="M139.0,298.5H188.5" fill="none" stroke="#3a3a3a" stroke-width="0.8" vector-effect="non-scaling-stroke"/>
<path d="M139.8,298.5v11" fill="none" stroke="#222" stroke-width="1.3" vector-effect="non-scaling-stroke"/>
<rect x="194.0" y="298.5" width="49.5" height="14.5" fill="#c6c6c6" stroke="#a8a8a8" stroke-width="0.4" vector-effect="non-scaling-stroke"/>
<path d="M194.0,298.5H243.5" fill="none" stroke="#3a3a3a" stroke-width="0.8" vector-effect="non-scaling-stroke"/>
<path d="M194.8,298.5v11" fill="none" stroke="#222" stroke-width="1.3" vector-effect="non-scaling-stroke"/>
<rect x="249.0" y="298.5" width="49.5" height="14.5" fill="#c6c6c6" stroke="#a8a8a8" stroke-width="0.4" vector-effect="non-scaling-stroke"/>
<path d="M249.0,298.5H298.5" fill="none" stroke="#3a3a3a" stroke-width="0.8" vector-effect="non-scaling-stroke"/>
<path d="M249.8,298.5v11" fill="none" stroke="#222" stroke-width="1.3" vector-effect="non-scaling-stroke"/>
<rect x="304.0" y="298.5" width="49.5" height="14.5" fill="#c6c6c6" stroke="#a8a8a8" stroke-width="0.4" vector-effect="non-scaling-stroke"/>
<path d="M304.0,298.5H353.5" fill="none" stroke="#3a3a3a" stroke-width="0.8" vector-effect="non-scaling-stroke"/>
<path d="M304.8,298.5v11" fill="none" stroke="#222" stroke-width="1.3" vector-effect="non-scaling-stroke"/>
<rect x="359.0" y="298.5" width="49.5" height="14.5" fill="#c6c6c6" stroke="#a8a8a8" stroke-width="0.4" vector-effect="non-scaling-stroke"/>
<path d="M359.0,298.5H408.5" fill="none" stroke="#3a3a3a" stroke-width="0.8" vector-effect="non-scaling-stroke"/>
<path d="M359.8,298.5v11" fill="none" stroke="#222" stroke-width="1.3" vector-effect="non-scaling-stroke"/>
<rect x="414.0" y="298.5" width="49.5" height="14.5" fill="#c6c6c6" stroke="#a8a8a8" stroke-width="0.4" vector-effect="non-scaling-stroke"/>
<path d="M414.0,298.5H463.5" fill="none" stroke="#3a3a3a" stroke-width="0.8" vector-effect="non-scaling-stroke"/>
<path d="M414.8,298.5v11" fill="none" stroke="#222" stroke-width="1.3" vector-effect="non-scaling-stroke"/>
<rect x="469.0" y="298.5" width="49.5" height="14.5" fill="#c6c6c6" stroke="#a8a8a8" stroke-width="0.4" vector-effect="non-scaling-stroke"/>
<path d="M469.0,298.5H518.5" fill="none" stroke="#3a3a3a" stroke-width="0.8" vector-effect="non-scaling-stroke"/>
<path d="M469.8,298.5v11" fill="none" stroke="#222" stroke-width="1.3" vector-effect="non-scaling-stroke"/>
<rect x="524.0" y="298.5" width="49.5" height="14.5" fill="#c6c6c6" stroke="#a8a8a8" stroke-width="0.4" vector-effect="non-scaling-stroke"/>
<path d="M524.0,298.5H573.5" fill="none" stroke="#3a3a3a" stroke-width="0.8" vector-effect="non-scaling-stroke"/>
<path d="M524.8,298.5v11" fill="none" stroke="#222" stroke-width="1.3" vector-effect="non-scaling-stroke"/>
<rect x="1.3" y="275.0" width="49.5" height="14.5" fill="#c6c6c6" stroke="#a8a8a8" stroke-width="0.4" vector-effect="non-scaling-stroke"/>
<path d="M1.3,275.0H50.8" fill="none" stroke="#3a3a3a" stroke-width="0.8" vector-effect="non-scaling-stroke"/>
<path d="M2.1,275.0v11" fill="none" stroke="#222" stroke-width="1.3" vector-effect="non-scaling-stroke"/>
<rect x="56.3" y="275.0" width="49.5" height="14.5" fill="#c6c6c6" stroke="#a8a8a8" stroke-width="0.4" vector-effect="non-scaling-stroke"/>
<path d="M56.3,275.0H105.8" fill="none" stroke="#3a3a3a" stroke-width="0.8" vector-effect="non-scaling-stroke"/>
<path d="M57.1,275.0v11" fill="none" stroke="#222" stroke-width="1.3" vector-effect="non-scaling-stroke"/>
<rect x="111.3" y="275.0" width="49.5" height="14.5" fill="#c6c6c6" stroke="#a8a8a8" stroke-width="0.4" vector-effect="non-scaling-stroke"/>
<path d="M111.3,275.0H160.8" fill="none" stroke="#3a3a3a" stroke-width="0.8" vector-effect="non-scaling-stroke"/>
<path d="M112.1,275.0v11" fill="none" stroke="#222" stroke-width="1.3" vector-effect="non-scaling-stroke"/>
<rect x="166.3" y="275.0" width="49.5" height="14.5" fill="#c6c6c6" stroke="#a8a8a8" stroke-width="0.4" vector-effect="non-scaling-stroke"/>
<path d="M166.3,275.0H215.8" fill="none" stroke="#3a3a3a" stroke-width="0.8" vector-effect="non-scaling-stroke"/>
<path d="M167.1,275.0v11" fill="none" stroke="#222" stroke-width="1.3" vector-effect="non-scaling-stroke"/>
<rect x="221.3" y="275.0" width="49.5" height="14.5" fill="#c6c6c6" stroke="#a8a8a8" stroke-width="0.4" vector-effect="non-scaling-stroke"/>
<path d="M221.3,275.0H270.8" fill="none" stroke="#3a3a3a" stroke-width="0.8" vector-effect="non-scaling-stroke"/>
<path d="M222.1,275.0v11" fill="none" stroke="#222" stroke-width="1.3" vector-effect="non-scaling-stroke"/>
<rect x="276.3" y="275.0" width="49.5" height="14.5" fill="#c6c6c6" stroke="#a8a8a8" stroke-width="0.4" vector-effect="non-scaling-stroke"/>
<path d="M276.3,275.0H325.8" fill="none" stroke="#3a3a3a" stroke-width="0.8" vector-effect="non-scaling-stroke"/>
<path d="M277.1,275.0v11" fill="none" stroke="#222" stroke-width="1.3" vector-effect="non-scaling-stroke"/>
<rect x="331.3" y="275.0" width="49.5" height="14.5" fill="#c6c6c6" stroke="#a8a8a8" stroke-width="0.4" vector-effect="non-scaling-stroke"/>
<path d="M331.3,275.0H380.8" fill="none" stroke="#3a3a3a" stroke-width="0.8" vector-effect="non-scaling-stroke"/>
<path d="M332.1,275.0v11" fill="none" stroke="#222" stroke-width="1.3" vector-effect="non-scaling-stroke"/>
<rect x="386.3" y="275.0" width="49.5" height="14.5" fill="#c6c6c6" stroke="#a8a8a8" stroke-width="0.4" vector-effect="non-scaling-stroke"/>
<path d="M386.3,275.0H435.8" fill="none" stroke="#3a3a3a" stroke-width="0.8" vector-effect="non-scaling-stroke"/>
<path d="M387.1,275.0v11" fill="none" stroke="#222" stroke-width="1.3" vector-effect="non-scaling-stroke"/>
<rect x="441.3" y="275.0" width="49.5" height="14.5" fill="#c6c6c6" stroke="#a8a8a8" stroke-width="0.4" vector-effect="non-scaling-stroke"/>
<path d="M441.3,275.0H490.8" fill="none" stroke="#3a3a3a" stroke-width="0.8" vector-effect="non-scaling-stroke"/>
<path d="M442.1,275.0v11" fill="none" stroke="#222" stroke-width="1.3" vector-effect="non-scaling-stroke"/>
<rect x="496.3" y="275.0" width="49.5" height="14.5" fill="#c6c6c6" stroke="#a8a8a8" stroke-width="0.4" vector-effect="non-scaling-stroke"/>
<path d="M496.3,275.0H545.8" fill="none" stroke="#3a3a3a" stroke-width="0.8" vector-effect="non-scaling-stroke"/>
<path d="M497.1,275.0v11" fill="none" stroke="#222" stroke-width="1.3" vector-effect="non-scaling-stroke"/>
<rect x="29.0" y="251.5" width="49.5" height="14.5" fill="#c6c6c6" stroke="#a8a8a8" stroke-width="0.4" vector-effect="non-scaling-stroke"/>
<path d="M29.0,251.5H78.5" fill="none" stroke="#3a3a3a" stroke-width="0.8" vector-effect="non-scaling-stroke"/>
<path d="M29.8,251.5v11" fill="none" stroke="#222" stroke-width="1.3" vector-effect="non-scaling-stroke"/>
<rect x="84.0" y="251.5" width="49.5" height="14.5" fill="#c6c6c6" stroke="#a8a8a8" stroke-width="0.4" vector-effect="non-scaling-stroke"/>
<path d="M84.0,251.5H133.5" fill="none" stroke="#3a3a3a" stroke-width="0.8" vector-effect="non-scaling-stroke"/>
<path d="M84.8,251.5v11" fill="none" stroke="#222" stroke-width="1.3" vector-effect="non-scaling-stroke"/>
<rect x="139.0" y="251.5" width="49.5" height="14.5" fill="#c6c6c6" stroke="#a8a8a8" stroke-width="0.4" vector-effect="non-scaling-stroke"/>
<path d="M139.0,251.5H188.5" fill="none" stroke="#3a3a3a" stroke-width="0.8" vector-effect="non-scaling-stroke"/>
<path d="M139.8,251.5v11" fill="none" stroke="#222" stroke-width="1.3" vector-effect="non-scaling-stroke"/>
<rect x="194.0" y="251.5" width="49.5" height="14.5" fill="#c6c6c6" stroke="#a8a8a8" stroke-width="0.4" vector-effect="non-scaling-stroke"/>
<path d="M194.0,251.5H243.5" fill="none" stroke="#3a3a3a" stroke-width="0.8" vector-effect="non-scaling-stroke"/>
<path d="M194.8,251.5v11" fill="none" stroke="#222" stroke-width="1.3" vector-effect="non-scaling-stroke"/>
<rect x="249.0" y="251.5" width="49.5" height="14.5" fill="#c6c6c6" stroke="#a8a8a8" stroke-width="0.4" vector-effect="non-scaling-stroke"/>
<path d="M249.0,251.5H298.5" fill="none" stroke="#3a3a3a" stroke-width="0.8" vector-effect="non-scaling-stroke"/>
<path d="M249.8,251.5v11" fill="none" stroke="#222" stroke-width="1.3" vector-effect="non-scaling-stroke"/>
<rect x="304.0" y="251.5" width="49.5" height="14.5" fill="#c6c6c6" stroke="#a8a8a8" stroke-width="0.4" vector-effect="non-scaling-stroke"/>
<path d="M304.0,251.5H353.5" fill="none" stroke="#3a3a3a" stroke-width="0.8" vector-effect="non-scaling-stroke"/>
<path d="M304.8,251.5v11" fill="none" stroke="#222" stroke-width="1.3" vector-effect="non-scaling-stroke"/>
<rect x="359.0" y="251.5" width="49.5" height="14.5" fill="#c6c6c6" stroke="#a8a8a8" stroke-width="0.4" vector-effect="non-scaling-stroke"/>
<path d="M359.0,251.5H408.5" fill="none" stroke="#3a3a3a" stroke-width="0.8" vector-effect="non-scaling-stroke"/>
<path d="M359.8,251.5v11" fill="none" stroke="#222" stroke-width="1.3" vector-effect="non-scaling-stroke"/>
<rect x="414.0" y="251.5" width="49.5" height="14.5" fill="#c6c6c6" stroke="#a8a8a8" stroke-width="0.4" vector-effect="non-scaling-stroke"/>
<path d="M414.0,251.5H463.5" fill="none" stroke="#3a3a3a" stroke-width="0.8" vector-effect="non-scaling-stroke"/>
<path d="M414.8,251.5v11" fill="none" stroke="#222" stroke-width="1.3" vector-effect="non-scaling-stroke"/>
<rect x="469.0" y="251.5" width="49.5" height="14.5" fill="#c6c6c6" stroke="#a8a8a8" stroke-width="0.4" vector-effect="non-scaling-stroke"/>
<path d="M469.0,251.5H518.5" fill="none" stroke="#3a3a3a" stroke-width="0.8" vector-effect="non-scaling-stroke"/>
<path d="M469.8,251.5v11" fill="none" stroke="#222" stroke-width="1.3" vector-effect="non-scaling-stroke"/>
<rect x="524.0" y="251.5" width="49.5" height="14.5" fill="#c6c6c6" stroke="#a8a8a8" stroke-width="0.4" vector-effect="non-scaling-stroke"/>
<path d="M524.0,251.5H573.5" fill="none" stroke="#3a3a3a" stroke-width="0.8" vector-effect="non-scaling-stroke"/>
<path d="M524.8,251.5v11" fill="none" stroke="#222" stroke-width="1.3" vector-effect="non-scaling-stroke"/>
<rect x="1.3" y="228.0" width="49.5" height="14.5" fill="#c6c6c6" stroke="#a8a8a8" stroke-width="0.4" vector-effect="non-scaling-stroke"/>
<path d="M1.3,228.0H50.8" fill="none" stroke="#3a3a3a" stroke-width="0.8" vector-effect="non-scaling-stroke"/>
<path d="M2.1,228.0v11" fill="none" stroke="#222" stroke-width="1.3" vector-effect="non-scaling-stroke"/>
<rect x="56.3" y="228.0" width="49.5" height="14.5" fill="#c6c6c6" stroke="#a8a8a8" stroke-width="0.4" vector-effect="non-scaling-stroke"/>
<path d="M56.3,228.0H105.8" fill="none" stroke="#3a3a3a" stroke-width="0.8" vector-effect="non-scaling-stroke"/>
<path d="M57.1,228.0v11" fill="none" stroke="#222" stroke-width="1.3" vector-effect="non-scaling-stroke"/>
<rect x="111.3" y="228.0" width="49.5" height="14.5" fill="#c6c6c6" stroke="#a8a8a8" stroke-width="0.4" vector-effect="non-scaling-stroke"/>
<path d="M111.3,228.0H160.8" fill="none" stroke="#3a3a3a" stroke-width="0.8" vector-effect="non-scaling-stroke"/>
<path d="M112.1,228.0v11" fill="none" stroke="#222" stroke-width="1.3" vector-effect="non-scaling-stroke"/>
<rect x="166.3" y="228.0" width="49.5" height="14.5" fill="#c6c6c6" stroke="#a8a8a8" stroke-width="0.4" vector-effect="non-scaling-stroke"/>
<path d="M166.3,228.0H215.8" fill="none" stroke="#3a3a3a" stroke-width="0.8" vector-effect="non-scaling-stroke"/>
<path d="M167.1,228.0v11" fill="none" stroke="#222" stroke-width="1.3" vector-effect="non-scaling-stroke"/>
<rect x="221.3" y="228.0" width="49.5" height="14.5" fill="#c6c6c6" stroke="#a8a8a8" stroke-width="0.4" vector-effect="non-scaling-stroke"/>
<path d="M221.3,228.0H270.8" fill="none" stroke="#3a3a3a" stroke-width="0.8" vector-effect="non-scaling-stroke"/>
<path d="M222.1,228.0v11" fill="none" stroke="#222" stroke-width="1.3" vector-effect="non-scaling-stroke"/>
<rect x="276.3" y="228.0" width="49.5" height="14.5" fill="#c6c6c6" stroke="#a8a8a8" stroke-width="0.4" vector-effect="non-scaling-stroke"/>
<path d="M276.3,228.0H325.8" fill="none" stroke="#3a3a3a" stroke-width="0.8" vector-effect="non-scaling-stroke"/>
<path d="M277.1,228.0v11" fill="none" stroke="#222" stroke-width="1.3" vector-effect="non-scaling-stroke"/>
<rect x="331.3" y="228.0" width="49.5" height="14.5" fill="#c6c6c6" stroke="#a8a8a8" stroke-width="0.4" vector-effect="non-scaling-stroke"/>
<path d="M331.3,228.0H380.8" fill="none" stroke="#3a3a3a" stroke-width="0.8" vector-effect="non-scaling-stroke"/>
<path d="M332.1,228.0v11" fill="none" stroke="#222" stroke-width="1.3" vector-effect="non-scaling-stroke"/>
<rect x="386.3" y="228.0" width="49.5" height="14.5" fill="#c6c6c6" stroke="#a8a8a8" stroke-width="0.4" vector-effect="non-scaling-stroke"/>
<path d="M386.3,228.0H435.8" fill="none" stroke="#3a3a3a" stroke-width="0.8" vector-effect="non-scaling-stroke"/>
<path d="M387.1,228.0v11" fill="none" stroke="#222" stroke-width="1.3" vector-effect="non-scaling-stroke"/>
<rect x="441.3" y="228.0" width="49.5" height="14.5" fill="#c6c6c6" stroke="#a8a8a8" stroke-width="0.4" vector-effect="non-scaling-stroke"/>
<path d="M441.3,228.0H490.8" fill="none" stroke="#3a3a3a" stroke-width="0.8" vector-effect="non-scaling-stroke"/>
<path d="M442.1,228.0v11" fill="none" stroke="#222" stroke-width="1.3" vector-effect="non-scaling-stroke"/>
<rect x="496.3" y="228.0" width="49.5" height="14.5" fill="#c6c6c6" stroke="#a8a8a8" stroke-width="0.4" vector-effect="non-scaling-stroke"/>
<path d="M496.3,228.0H545.8" fill="none" stroke="#3a3a3a" stroke-width="0.8" vector-effect="non-scaling-stroke"/>
<path d="M497.1,228.0v11" fill="none" stroke="#222" stroke-width="1.3" vector-effect="non-scaling-stroke"/>
<rect x="29.0" y="204.5" width="49.5" height="14.5" fill="#c6c6c6" stroke="#a8a8a8" stroke-width="0.4" vector-effect="non-scaling-stroke"/>
<path d="M29.0,204.5H78.5" fill="none" stroke="#3a3a3a" stroke-width="0.8" vector-effect="non-scaling-stroke"/>
<path d="M29.8,204.5v11" fill="none" stroke="#222" stroke-width="1.3" vector-effect="non-scaling-stroke"/>
<rect x="84.0" y="204.5" width="49.5" height="14.5" fill="#c6c6c6" stroke="#a8a8a8" stroke-width="0.4" vector-effect="non-scaling-stroke"/>
<path d="M84.0,204.5H133.5" fill="none" stroke="#3a3a3a" stroke-width="0.8" vector-effect="non-scaling-stroke"/>
<path d="M84.8,204.5v11" fill="none" stroke="#222" stroke-width="1.3" vector-effect="non-scaling-stroke"/>
<rect x="139.0" y="204.5" width="49.5" height="14.5" fill="#c6c6c6" stroke="#a8a8a8" stroke-width="0.4" vector-effect="non-scaling-stroke"/>
<path d="M139.0,204.5H188.5" fill="none" stroke="#3a3a3a" stroke-width="0.8" vector-effect="non-scaling-stroke"/>
<path d="M139.8,204.5v11" fill="none" stroke="#222" stroke-width="1.3" vector-effect="non-scaling-stroke"/>
<rect x="194.0" y="204.5" width="49.5" height="14.5" fill="#c6c6c6" stroke="#a8a8a8" stroke-width="0.4" vector-effect="non-scaling-stroke"/>
<path d="M194.0,204.5H243.5" fill="none" stroke="#3a3a3a" stroke-width="0.8" vector-effect="non-scaling-stroke"/>
<path d="M194.8,204.5v11" fill="none" stroke="#222" stroke-width="1.3" vector-effect="non-scaling-stroke"/>
<rect x="249.0" y="204.5" width="49.5" height="14.5" fill="#c6c6c6" stroke="#a8a8a8" stroke-width="0.4" vector-effect="non-scaling-stroke"/>
<path d="M249.0,204.5H298.5" fill="none" stroke="#3a3a3a" stroke-width="0.8" vector-effect="non-scaling-stroke"/>
<path d="M249.8,204.5v11" fill="none" stroke="#222" stroke-width="1.3" vector-effect="non-scaling-stroke"/>
<rect x="304.0" y="204.5" width="49.5" height="14.5" fill="#c6c6c6" stroke="#a8a8a8" stroke-width="0.4" vector-effect="non-scaling-stroke"/>
<path d="M304.0,204.5H353.5" fill="none" stroke="#3a3a3a" stroke-width="0.8" vector-effect="non-scaling-stroke"/>
<path d="M304.8,204.5v11" fill="none" stroke="#222" stroke-width="1.3" vector-effect="non-scaling-stroke"/>
<rect x="359.0" y="204.5" width="49.5" height="14.5" fill="#c6c6c6" stroke="#a8a8a8" stroke-width="0.4" vector-effect="non-scaling-stroke"/>
<path d="M359.0,204.5H408.5" fill="none" stroke="#3a3a3a" stroke-width="0.8" vector-effect="non-scaling-stroke"/>
<path d="M359.8,204.5v11" fill="none" stroke="#222" stroke-width="1.3" vector-effect="non-scaling-stroke"/>
<rect x="414.0" y="204.5" width="49.5" height="14.5" fill="#c6c6c6" stroke="#a8a8a8" stroke-width="0.4" vector-effect="non-scaling-stroke"/>
<path d="M414.0,204.5H463.5" fill="none" stroke="#3a3a3a" stroke-width="0.8" vector-effect="non-scaling-stroke"/>
<path d="M414.8,204.5v11" fill="none" stroke="#222" stroke-width="1.3" vector-effect="non-scaling-stroke"/>
<rect x="469.0" y="204.5" width="49.5" height="14.5" fill="#c6c6c6" stroke="#a8a8a8" stroke-width="0.4" vector-effect="non-scaling-stroke"/>
<path d="M469.0,204.5H518.5" fill="none" stroke="#3a3a3a" stroke-width="0.8" vector-effect="non-scaling-stroke"/>
<path d="M469.8,204.5v11" fill="none" stroke="#222" stroke-width="1.3" vector-effect="non-scaling-stroke"/>
<rect x="524.0" y="204.5" width="49.5" height="14.5" fill="#c6c6c6" stroke="#a8a8a8" stroke-width="0.4" vector-effect="non-scaling-stroke"/>
<path d="M524.0,204.5H573.5" fill="none" stroke="#3a3a3a" stroke-width="0.8" vector-effect="non-scaling-stroke"/>
<path d="M524.8,204.5v11" fill="none" stroke="#222" stroke-width="1.3" vector-effect="non-scaling-stroke"/>
<rect x="1.3" y="181.0" width="49.5" height="14.5" fill="#c6c6c6" stroke="#a8a8a8" stroke-width="0.4" vector-effect="non-scaling-stroke"/>
<path d="M1.3,181.0H50.8" fill="none" stroke="#3a3a3a" stroke-width="0.8" vector-effect="non-scaling-stroke"/>
<path d="M2.1,181.0v11" fill="none" stroke="#222" stroke-width="1.3" vector-effect="non-scaling-stroke"/>
<rect x="56.3" y="181.0" width="49.5" height="14.5" fill="#c6c6c6" stroke="#a8a8a8" stroke-width="0.4" vector-effect="non-scaling-stroke"/>
<path d="M56.3,181.0H105.8" fill="none" stroke="#3a3a3a" stroke-width="0.8" vector-effect="non-scaling-stroke"/>
<path d="M57.1,181.0v11" fill="none" stroke="#222" stroke-width="1.3" vector-effect="non-scaling-stroke"/>
<rect x="111.3" y="181.0" width="49.5" height="14.5" fill="#c6c6c6" stroke="#a8a8a8" stroke-width="0.4" vector-effect="non-scaling-stroke"/>
<path d="M111.3,181.0H160.8" fill="none" stroke="#3a3a3a" stroke-width="0.8" vector-effect="non-scaling-stroke"/>
<path d="M112.1,181.0v11" fill="none" stroke="#222" stroke-width="1.3" vector-effect="non-scaling-stroke"/>
<rect x="166.3" y="181.0" width="49.5" height="14.5" fill="#c6c6c6" stroke="#a8a8a8" stroke-width="0.4" vector-effect="non-scaling-stroke"/>
<path d="M166.3,181.0H215.8" fill="none" stroke="#3a3a3a" stroke-width="0.8" vector-effect="non-scaling-stroke"/>
<path d="M167.1,181.0v11" fill="none" stroke="#222" stroke-width="1.3" vector-effect="non-scaling-stroke"/>
<rect x="221.3" y="181.0" width="49.5" height="14.5" fill="#c6c6c6" stroke="#a8a8a8" stroke-width="0.4" vector-effect="non-scaling-stroke"/>
<path d="M221.3,181.0H270.8" fill="none" stroke="#3a3a3a" stroke-width="0.8" vector-effect="non-scaling-stroke"/>
<path d="M222.1,181.0v11" fill="none" stroke="#222" stroke-width="1.3" vector-effect="non-scaling-stroke"/>
<rect x="276.3" y="181.0" width="49.5" height="14.5" fill="#c6c6c6" stroke="#a8a8a8" stroke-width="0.4" vector-effect="non-scaling-stroke"/>
<path d="M276.3,181.0H325.8" fill="none" stroke="#3a3a3a" stroke-width="0.8" vector-effect="non-scaling-stroke"/>
<path d="M277.1,181.0v11" fill="none" stroke="#222" stroke-width="1.3" vector-effect="non-scaling-stroke"/>
<rect x="331.3" y="181.0" width="49.5" height="14.5" fill="#c6c6c6" stroke="#a8a8a8" stroke-width="0.4" vector-effect="non-scaling-stroke"/>
<path d="M331.3,181.0H380.8" fill="none" stroke="#3a3a3a" stroke-width="0.8" vector-effect="non-scaling-stroke"/>
<path d="M332.1,181.0v11" fill="none" stroke="#222" stroke-width="1.3" vector-effect="non-scaling-stroke"/>
<rect x="386.3" y="181.0" width="49.5" height="14.5" fill="#c6c6c6" stroke="#a8a8a8" stroke-width="0.4" vector-effect="non-scaling-stroke"/>
<path d="M386.3,181.0H435.8" fill="none" stroke="#3a3a3a" stroke-width="0.8" vector-effect="non-scaling-stroke"/>
<path d="M387.1,181.0v11" fill="none" stroke="#222" stroke-width="1.3" vector-effect="non-scaling-stroke"/>
<rect x="441.3" y="181.0" width="49.5" height="14.5" fill="#c6c6c6" stroke="#a8a8a8" stroke-width="0.4" vector-effect="non-scaling-stroke"/>
<path d="M441.3,181.0H490.8" fill="none" stroke="#3a3a3a" stroke-width="0.8" vector-effect="non-scaling-stroke"/>
<path d="M442.1,181.0v11" fill="none" stroke="#222" stroke-width="1.3" vector-effect="non-scaling-stroke"/>
<rect x="496.3" y="181.0" width="49.5" height="14.5" fill="#c6c6c6" stroke="#a8a8a8" stroke-width="0.4" vector-effect="non-scaling-stroke"/>
<path d="M496.3,181.0H545.8" fill="none" stroke="#3a3a3a" stroke-width="0.8" vector-effect="non-scaling-stroke"/>
<path d="M497.1,181.0v11" fill="none" stroke="#222" stroke-width="1.3" vector-effect="non-scaling-stroke"/>
<rect x="29.0" y="157.5" width="49.5" height="14.5" fill="#c6c6c6" stroke="#a8a8a8" stroke-width="0.4" vector-effect="non-scaling-stroke"/>
<path d="M29.0,157.5H78.5" fill="none" stroke="#3a3a3a" stroke-width="0.8" vector-effect="non-scaling-stroke"/>
<path d="M29.8,157.5v11" fill="none" stroke="#222" stroke-width="1.3" vector-effect="non-scaling-stroke"/>
<rect x="84.0" y="157.5" width="49.5" height="14.5" fill="#c6c6c6" stroke="#a8a8a8" stroke-width="0.4" vector-effect="non-scaling-stroke"/>
<path d="M84.0,157.5H133.5" fill="none" stroke="#3a3a3a" stroke-width="0.8" vector-effect="non-scaling-stroke"/>
<path d="M84.8,157.5v11" fill="none" stroke="#222" stroke-width="1.3" vector-effect="non-scaling-stroke"/>
<rect x="139.0" y="157.5" width="49.5" height="14.5" fill="#c6c6c6" stroke="#a8a8a8" stroke-width="0.4" vector-effect="non-scaling-stroke"/>
<path d="M139.0,157.5H188.5" fill="none" stroke="#3a3a3a" stroke-width="0.8" vector-effect="non-scaling-stroke"/>
<path d="M139.8,157.5v11" fill="none" stroke="#222" stroke-width="1.3" vector-effect="non-scaling-stroke"/>
<rect x="194.0" y="157.5" width="49.5" height="14.5" fill="#c6c6c6" stroke="#a8a8a8" stroke-width="0.4" vector-effect="non-scaling-stroke"/>
<path d="M194.0,157.5H243.5" fill="none" stroke="#3a3a3a" stroke-width="0.8" vector-effect="non-scaling-stroke"/>
<path d="M194.8,157.5v11" fill="none" stroke="#222" stroke-width="1.3" vector-effect="non-scaling-stroke"/>
<rect x="249.0" y="157.5" width="49.5" height="14.5" fill="#c6c6c6" stroke="#a8a8a8" stroke-width="0.4" vector-effect="non-scaling-stroke"/>
<path d="M249.0,157.5H298.5" fill="none" stroke="#3a3a3a" stroke-width="0.8" vector-effect="non-scaling-stroke"/>
<path d="M249.8,157.5v11" fill="none" stroke="#222" stroke-width="1.3" vector-effect="non-scaling-stroke"/>
<rect x="304.0" y="157.5" width="49.5" height="14.5" fill="#c6c6c6" stroke="#a8a8a8" stroke-width="0.4" vector-effect="non-scaling-stroke"/>
<path d="M304.0,157.5H353.5" fill="none" stroke="#3a3a3a" stroke-width="0.8" vector-effect="non-scaling-stroke"/>
<path d="M304.8,157.5v11" fill="none" stroke="#222" stroke-width="1.3" vector-effect="non-scaling-stroke"/>
<rect x="359.0" y="157.5" width="49.5" height="14.5" fill="#c6c6c6" stroke="#a8a8a8" stroke-width="0.4" vector-effect="non-scaling-stroke"/>
<path d="M359.0,157.5H408.5" fill="none" stroke="#3a3a3a" stroke-width="0.8" vector-effect="non-scaling-stroke"/>
<path d="M359.8,157.5v11" fill="none" stroke="#222" stroke-width="1.3" vector-effect="non-scaling-stroke"/>
<rect x="414.0" y="157.5" width="49.5" height="14.5" fill="#c6c6c6" stroke="#a8a8a8" stroke-width="0.4" vector-effect="non-scaling-stroke"/>
<path d="M414.0,157.5H463.5" fill="none" stroke="#3a3a3a" stroke-width="0.8" vector-effect="non-scaling-stroke"/>
<path d="M414.8,157.5v11" fill="none" stroke="#222" stroke-width="1.3" vector-effect="non-scaling-stroke"/>
<rect x="469.0" y="157.5" width="49.5" height="14.5" fill="#c6c6c6" stroke="#a8a8a8" stroke-width="0.4" vector-effect="non-scaling-stroke"/>
<path d="M469.0,157.5H518.5" fill="none" stroke="#3a3a3a" stroke-width="0.8" vector-effect="non-scaling-stroke"/>
<path d="M469.8,157.5v11" fill="none" stroke="#222" stroke-width="1.3" vector-effect="non-scaling-stroke"/>
<rect x="524.0" y="157.5" width="49.5" height="14.5" fill="#c6c6c6" stroke="#a8a8a8" stroke-width="0.4" vector-effect="non-scaling-stroke"/>
<path d="M524.0,157.5H573.5" fill="none" stroke="#3a3a3a" stroke-width="0.8" vector-effect="non-scaling-stroke"/>
<path d="M524.8,157.5v11" fill="none" stroke="#222" stroke-width="1.3" vector-effect="non-scaling-stroke"/>
<rect x="1.3" y="134.0" width="49.5" height="14.5" fill="#c6c6c6" stroke="#a8a8a8" stroke-width="0.4" vector-effect="non-scaling-stroke"/>
<path d="M1.3,134.0H50.8" fill="none" stroke="#3a3a3a" stroke-width="0.8" vector-effect="non-scaling-stroke"/>
<path d="M2.1,134.0v11" fill="none" stroke="#222" stroke-width="1.3" vector-effect="non-scaling-stroke"/>
<rect x="56.3" y="134.0" width="49.5" height="14.5" fill="#c6c6c6" stroke="#a8a8a8" stroke-width="0.4" vector-effect="non-scaling-stroke"/>
<path d="M56.3,134.0H105.8" fill="none" stroke="#3a3a3a" stroke-width="0.8" vector-effect="non-scaling-stroke"/>
<path d="M57.1,134.0v11" fill="none" stroke="#222" stroke-width="1.3" vector-effect="non-scaling-stroke"/>
<rect x="111.3" y="134.0" width="49.5" height="14.5" fill="#c6c6c6" stroke="#a8a8a8" stroke-width="0.4" vector-effect="non-scaling-stroke"/>
<path d="M111.3,134.0H160.8" fill="none" stroke="#3a3a3a" stroke-width="0.8" vector-effect="non-scaling-stroke"/>
<path d="M112.1,134.0v11" fill="none" stroke="#222" stroke-width="1.3" vector-effect="non-scaling-stroke"/>
<rect x="166.3" y="134.0" width="49.5" height="14.5" fill="#c6c6c6" stroke="#a8a8a8" stroke-width="0.4" vector-effect="non-scaling-stroke"/>
<path d="M166.3,134.0H215.8" fill="none" stroke="#3a3a3a" stroke-width="0.8" vector-effect="non-scaling-stroke"/>
<path d="M167.1,134.0v11" fill="none" stroke="#222" stroke-width="1.3" vector-effect="non-scaling-stroke"/>
<rect x="221.3" y="134.0" width="49.5" height="14.5" fill="#c6c6c6" stroke="#a8a8a8" stroke-width="0.4" vector-effect="non-scaling-stroke"/>
<path d="M221.3,134.0H270.8" fill="none" stroke="#3a3a3a" stroke-width="0.8" vector-effect="non-scaling-stroke"/>
<path d="M222.1,134.0v11" fill="none" stroke="#222" stroke-width="1.3" vector-effect="non-scaling-stroke"/>
<rect x="276.3" y="134.0" width="49.5" height="14.5" fill="#c6c6c6" stroke="#a8a8a8" stroke-width="0.4" vector-effect="non-scaling-stroke"/>
<path d="M276.3,134.0H325.8" fill="none" stroke="#3a3a3a" stroke-width="0.8" vector-effect="non-scaling-stroke"/>
<path d="M277.1,134.0v11" fill="none" stroke="#222" stroke-width="1.3" vector-effect="non-scaling-stroke"/>
<rect x="331.3" y="134.0" width="49.5" height="14.5" fill="#c6c6c6" stroke="#a8a8a8" stroke-width="0.4" vector-effect="non-scaling-stroke"/>
<path d="M331.3,134.0H380.8" fill="none" stroke="#3a3a3a" stroke-width="0.8" vector-effect="non-scaling-stroke"/>
<path d="M332.1,134.0v11" fill="none" stroke="#222" stroke-width="1.3" vector-effect="non-scaling-stroke"/>
<rect x="386.3" y="134.0" width="49.5" height="14.5" fill="#c6c6c6" stroke="#a8a8a8" stroke-width="0.4" vector-effect="non-scaling-stroke"/>
<path d="M386.3,134.0H435.8" fill="none" stroke="#3a3a3a" stroke-width="0.8" vector-effect="non-scaling-stroke"/>
<path d="M387.1,134.0v11" fill="none" stroke="#222" stroke-width="1.3" vector-effect="non-scaling-stroke"/>
<rect x="441.3" y="134.0" width="49.5" height="14.5" fill="#c6c6c6" stroke="#a8a8a8" stroke-width="0.4" vector-effect="non-scaling-stroke"/>
<path d="M441.3,134.0H490.8" fill="none" stroke="#3a3a3a" stroke-width="0.8" vector-effect="non-scaling-stroke"/>
<path d="M442.1,134.0v11" fill="none" stroke="#222" stroke-width="1.3" vector-effect="non-scaling-stroke"/>
<rect x="496.3" y="134.0" width="49.5" height="14.5" fill="#c6c6c6" stroke="#a8a8a8" stroke-width="0.4" vector-effect="non-scaling-stroke"/>
<path d="M496.3,134.0H545.8" fill="none" stroke="#3a3a3a" stroke-width="0.8" vector-effect="non-scaling-stroke"/>
<path d="M497.1,134.0v11" fill="none" stroke="#222" stroke-width="1.3" vector-effect="non-scaling-stroke"/>
<rect x="29.0" y="110.5" width="49.5" height="14.5" fill="#c6c6c6" stroke="#a8a8a8" stroke-width="0.4" vector-effect="non-scaling-stroke"/>
<path d="M29.0,110.5H78.5" fill="none" stroke="#3a3a3a" stroke-width="0.8" vector-effect="non-scaling-stroke"/>
<path d="M29.8,110.5v11" fill="none" stroke="#222" stroke-width="1.3" vector-effect="non-scaling-stroke"/>
<rect x="84.0" y="110.5" width="49.5" height="14.5" fill="#c6c6c6" stroke="#a8a8a8" stroke-width="0.4" vector-effect="non-scaling-stroke"/>
<path d="M84.0,110.5H133.5" fill="none" stroke="#3a3a3a" stroke-width="0.8" vector-effect="non-scaling-stroke"/>
<path d="M84.8,110.5v11" fill="none" stroke="#222" stroke-width="1.3" vector-effect="non-scaling-stroke"/>
<rect x="139.0" y="110.5" width="49.5" height="14.5" fill="#c6c6c6" stroke="#a8a8a8" stroke-width="0.4" vector-effect="non-scaling-stroke"/>
<path d="M139.0,110.5H188.5" fill="none" stroke="#3a3a3a" stroke-width="0.8" vector-effect="non-scaling-stroke"/>
<path d="M139.8,110.5v11" fill="none" stroke="#222" stroke-width="1.3" vector-effect="non-scaling-stroke"/>
<rect x="194.0" y="110.5" width="49.5" height="14.5" fill="#c6c6c6" stroke="#a8a8a8" stroke-width="0.4" vector-effect="non-scaling-stroke"/>
<path d="M194.0,110.5H243.5" fill="none" stroke="#3a3a3a" stroke-width="0.8" vector-effect="non-scaling-stroke"/>
<path d="M194.8,110.5v11" fill="none" stroke="#222" stroke-width="1.3" vector-effect="non-scaling-stroke"/>
<rect x="249.0" y="110.5" width="49.5" height="14.5" fill="#c6c6c6" stroke="#a8a8a8" stroke-width="0.4" vector-effect="non-scaling-stroke"/>
<path d="M249.0,110.5H298.5" fill="none" stroke="#3a3a3a" stroke-width="0.8" vector-effect="non-scaling-stroke"/>
<path d="M249.8,110.5v11" fill="none" stroke="#222" stroke-width="1.3" vector-effect="non-scaling-stroke"/>
<rect x="304.0" y="110.5" width="49.5" height="14.5" fill="#c6c6c6" stroke="#a8a8a8" stroke-width="0.4" vector-effect="non-scaling-stroke"/>
<path d="M304.0,110.5H353.5" fill="none" stroke="#3a3a3a" stroke-width="0.8" vector-effect="non-scaling-stroke"/>
<path d="M304.8,110.5v11" fill="none" stroke="#222" stroke-width="1.3" vector-effect="non-scaling-stroke"/>
<rect x="359.0" y="110.5" width="49.5" height="14.5" fill="#c6c6c6" stroke="#a8a8a8" stroke-width="0.4" vector-effect="non-scaling-stroke"/>
<path d="M359.0,110.5H408.5" fill="none" stroke="#3a3a3a" stroke-width="0.8" vector-effect="non-scaling-stroke"/>
<path d="M359.8,110.5v11" fill="none" stroke="#222" stroke-width="1.3" vector-effect="non-scaling-stroke"/>
<rect x="414.0" y="110.5" width="49.5" height="14.5" fill="#c6c6c6" stroke="#a8a8a8" stroke-width="0.4" vector-effect="non-scaling-stroke"/>
<path d="M414.0,110.5H463.5" fill="none" stroke="#3a3a3a" stroke-width="0.8" vector-effect="non-scaling-stroke"/>
<path d="M414.8,110.5v11" fill="none" stroke="#222" stroke-width="1.3" vector-effect="non-scaling-stroke"/>
<rect x="469.0" y="110.5" width="49.5" height="14.5" fill="#c6c6c6" stroke="#a8a8a8" stroke-width="0.4" vector-effect="non-scaling-stroke"/>
<path d="M469.0,110.5H518.5" fill="none" stroke="#3a3a3a" stroke-width="0.8" vector-effect="non-scaling-stroke"/>
<path d="M469.8,110.5v11" fill="none" stroke="#222" stroke-width="1.3" vector-effect="non-scaling-stroke"/>
<rect x="524.0" y="110.5" width="49.5" height="14.5" fill="#c6c6c6" stroke="#a8a8a8" stroke-width="0.4" vector-effect="non-scaling-stroke"/>
<path d="M524.0,110.5H573.5" fill="none" stroke="#3a3a3a" stroke-width="0.8" vector-effect="non-scaling-stroke"/>
<path d="M524.8,110.5v11" fill="none" stroke="#222" stroke-width="1.3" vector-effect="non-scaling-stroke"/>
<rect x="1.3" y="87.0" width="49.5" height="14.5" fill="#c6c6c6" stroke="#a8a8a8" stroke-width="0.4" vector-effect="non-scaling-stroke"/>
<path d="M1.3,87.0H50.8" fill="none" stroke="#3a3a3a" stroke-width="0.8" vector-effect="non-scaling-stroke"/>
<path d="M2.1,87.0v11" fill="none" stroke="#222" stroke-width="1.3" vector-effect="non-scaling-stroke"/>
<rect x="56.3" y="87.0" width="49.5" height="14.5" fill="#c6c6c6" stroke="#a8a8a8" stroke-width="0.4" vector-effect="non-scaling-stroke"/>
<path d="M56.3,87.0H105.8" fill="none" stroke="#3a3a3a" stroke-width="0.8" vector-effect="non-scaling-stroke"/>
<path d="M57.1,87.0v11" fill="none" stroke="#222" stroke-width="1.3" vector-effect="non-scaling-stroke"/>
<rect x="111.3" y="87.0" width="49.5" height="14.5" fill="#c6c6c6" stroke="#a8a8a8" stroke-width="0.4" vector-effect="non-scaling-stroke"/>
<path d="M111.3,87.0H160.8" fill="none" stroke="#3a3a3a" stroke-width="0.8" vector-effect="non-scaling-stroke"/>
<path d="M112.1,87.0v11" fill="none" stroke="#222" stroke-width="1.3" vector-effect="non-scaling-stroke"/>
<rect x="166.3" y="87.0" width="49.5" height="14.5" fill="#c6c6c6" stroke="#a8a8a8" stroke-width="0.4" vector-effect="non-scaling-stroke"/>
<path d="M166.3,87.0H215.8" fill="none" stroke="#3a3a3a" stroke-width="0.8" vector-effect="non-scaling-stroke"/>
<path d="M167.1,87.0v11" fill="none" stroke="#222" stroke-width="1.3" vector-effect="non-scaling-stroke"/>
<rect x="221.3" y="87.0" width="49.5" height="14.5" fill="#c6c6c6" stroke="#a8a8a8" stroke-width="0.4" vector-effect="non-scaling-stroke"/>
<path d="M221.3,87.0H270.8" fill="none" stroke="#3a3a3a" stroke-width="0.8" vector-effect="non-scaling-stroke"/>
<path d="M222.1,87.0v11" fill="none" stroke="#222" stroke-width="1.3" vector-effect="non-scaling-stroke"/>
<rect x="276.3" y="87.0" width="49.5" height="14.5" fill="#c6c6c6" stroke="#a8a8a8" stroke-width="0.4" vector-effect="non-scaling-stroke"/>
<path d="M276.3,87.0H325.8" fill="none" stroke="#3a3a3a" stroke-width="0.8" vector-effect="non-scaling-stroke"/>
<path d="M277.1,87.0v11" fill="none" stroke="#222" stroke-width="1.3" vector-effect="non-scaling-stroke"/>
<rect x="331.3" y="87.0" width="49.5" height="14.5" fill="#c6c6c6" stroke="#a8a8a8" stroke-width="0.4" vector-effect="non-scaling-stroke"/>
<path d="M331.3,87.0H380.8" fill="none" stroke="#3a3a3a" stroke-width="0.8" vector-effect="non-scaling-stroke"/>
<path d="M332.1,87.0v11" fill="none" stroke="#222" stroke-width="1.3" vector-effect="non-scaling-stroke"/>
<rect x="386.3" y="87.0" width="49.5" height="14.5" fill="#c6c6c6" stroke="#a8a8a8" stroke-width="0.4" vector-effect="non-scaling-stroke"/>
<path d="M386.3,87.0H435.8" fill="none" stroke="#3a3a3a" stroke-width="0.8" vector-effect="non-scaling-stroke"/>
<path d="M387.1,87.0v11" fill="none" stroke="#222" stroke-width="1.3" vector-effect="non-scaling-stroke"/>
<rect x="441.3" y="87.0" width="49.5" height="14.5" fill="#c6c6c6" stroke="#a8a8a8" stroke-width="0.4" vector-effect="non-scaling-stroke"/>
<path d="M441.3,87.0H490.8" fill="none" stroke="#3a3a3a" stroke-width="0.8" vector-effect="non-scaling-stroke"/>
<path d="M442.1,87.0v11" fill="none" stroke="#222" stroke-width="1.3" vector-effect="non-scaling-stroke"/>
<rect x="496.3" y="87.0" width="49.5" height="14.5" fill="#c6c6c6" stroke="#a8a8a8" stroke-width="0.4" vector-effect="non-scaling-stroke"/>
<path d="M496.3,87.0H545.8" fill="none" stroke="#3a3a3a" stroke-width="0.8" vector-effect="non-scaling-stroke"/>
<path d="M497.1,87.0v11" fill="none" stroke="#222" stroke-width="1.3" vector-effect="non-scaling-stroke"/>
<rect x="29.0" y="63.5" width="49.5" height="14.5" fill="#c6c6c6" stroke="#a8a8a8" stroke-width="0.4" vector-effect="non-scaling-stroke"/>
<path d="M29.0,63.5H78.5" fill="none" stroke="#3a3a3a" stroke-width="0.8" vector-effect="non-scaling-stroke"/>
<path d="M29.8,63.5v11" fill="none" stroke="#222" stroke-width="1.3" vector-effect="non-scaling-stroke"/>
<rect x="84.0" y="63.5" width="49.5" height="14.5" fill="#c6c6c6" stroke="#a8a8a8" stroke-width="0.4" vector-effect="non-scaling-stroke"/>
<path d="M84.0,63.5H133.5" fill="none" stroke="#3a3a3a" stroke-width="0.8" vector-effect="non-scaling-stroke"/>
<path d="M84.8,63.5v11" fill="none" stroke="#222" stroke-width="1.3" vector-effect="non-scaling-stroke"/>
<rect x="139.0" y="63.5" width="49.5" height="14.5" fill="#c6c6c6" stroke="#a8a8a8" stroke-width="0.4" vector-effect="non-scaling-stroke"/>
<path d="M139.0,63.5H188.5" fill="none" stroke="#3a3a3a" stroke-width="0.8" vector-effect="non-scaling-stroke"/>
<path d="M139.8,63.5v11" fill="none" stroke="#222" stroke-width="1.3" vector-effect="non-scaling-stroke"/>
<rect x="194.0" y="63.5" width="49.5" height="14.5" fill="#c6c6c6" stroke="#a8a8a8" stroke-width="0.4" vector-effect="non-scaling-stroke"/>
<path d="M194.0,63.5H243.5" fill="none" stroke="#3a3a3a" stroke-width="0.8" vector-effect="non-scaling-stroke"/>
<path d="M194.8,63.5v11" fill="none" stroke="#222" stroke-width="1.3" vector-effect="non-scaling-stroke"/>
<rect x="249.0" y="63.5" width="49.5" height="14.5" fill="#c6c6c6" stroke="#a8a8a8" stroke-width="0.4" vector-effect="non-scaling-stroke"/>
<path d="M249.0,63.5H298.5" fill="none" stroke="#3a3a3a" stroke-width="0.8" vector-effect="non-scaling-stroke"/>
<path d="M249.8,63.5v11" fill="none" stroke="#222" stroke-width="1.3" vector-effect="non-scaling-stroke"/>
<rect x="304.0" y="63.5" width="49.5" height="14.5" fill="#c6c6c6" stroke="#a8a8a8" stroke-width="0.4" vector-effect="non-scaling-stroke"/>
<path d="M304.0,63.5H353.5" fill="none" stroke="#3a3a3a" stroke-width="0.8" vector-effect="non-scaling-stroke"/>
<path d="M304.8,63.5v11" fill="none" stroke="#222" stroke-width="1.3" vector-effect="non-scaling-stroke"/>
<rect x="359.0" y="63.5" width="49.5" height="14.5" fill="#c6c6c6" stroke="#a8a8a8" stroke-width="0.4" vector-effect="non-scaling-stroke"/>
<path d="M359.0,63.5H408.5" fill="none" stroke="#3a3a3a" stroke-width="0.8" vector-effect="non-scaling-stroke"/>
<path d="M359.8,63.5v11" fill="none" stroke="#222" stroke-width="1.3" vector-effect="non-scaling-stroke"/>
<rect x="414.0" y="63.5" width="49.5" height="14.5" fill="#c6c6c6" stroke="#a8a8a8" stroke-width="0.4" vector-effect="non-scaling-stroke"/>
<path d="M414.0,63.5H463.5" fill="none" stroke="#3a3a3a" stroke-width="0.8" vector-effect="non-scaling-stroke"/>
<path d="M414.8,63.5v11" fill="none" stroke="#222" stroke-width="1.3" vector-effect="non-scaling-stroke"/>
<rect x="469.0" y="63.5" width="49.5" height="14.5" fill="#c6c6c6" stroke="#a8a8a8" stroke-width="0.4" vector-effect="non-scaling-stroke"/>
<path d="M469.0,63.5H518.5" fill="none" stroke="#3a3a3a" stroke-width="0.8" vector-effect="non-scaling-stroke"/>
<path d="M469.8,63.5v11" fill="none" stroke="#222" stroke-width="1.3" vector-effect="non-scaling-stroke"/>
<rect x="524.0" y="63.5" width="49.5" height="14.5" fill="#c6c6c6" stroke="#a8a8a8" stroke-width="0.4" vector-effect="non-scaling-stroke"/>
<path d="M524.0,63.5H573.5" fill="none" stroke="#3a3a3a" stroke-width="0.8" vector-effect="non-scaling-stroke"/>
<path d="M524.8,63.5v11" fill="none" stroke="#222" stroke-width="1.3" vector-effect="non-scaling-stroke"/>
<rect x="1.3" y="40.0" width="49.5" height="14.5" fill="#c6c6c6" stroke="#a8a8a8" stroke-width="0.4" vector-effect="non-scaling-stroke"/>
<path d="M1.3,40.0H50.8" fill="none" stroke="#3a3a3a" stroke-width="0.8" vector-effect="non-scaling-stroke"/>
<path d="M2.1,40.0v11" fill="none" stroke="#222" stroke-width="1.3" vector-effect="non-scaling-stroke"/>
<rect x="56.3" y="40.0" width="49.5" height="14.5" fill="#c6c6c6" stroke="#a8a8a8" stroke-width="0.4" vector-effect="non-scaling-stroke"/>
<path d="M56.3,40.0H105.8" fill="none" stroke="#3a3a3a" stroke-width="0.8" vector-effect="non-scaling-stroke"/>
<path d="M57.1,40.0v11" fill="none" stroke="#222" stroke-width="1.3" vector-effect="non-scaling-stroke"/>
<rect x="111.3" y="40.0" width="49.5" height="14.5" fill="#c6c6c6" stroke="#a8a8a8" stroke-width="0.4" vector-effect="non-scaling-stroke"/>
<path d="M111.3,40.0H160.8" fill="none" stroke="#3a3a3a" stroke-width="0.8" vector-effect="non-scaling-stroke"/>
<path d="M112.1,40.0v11" fill="none" stroke="#222" stroke-width="1.3" vector-effect="non-scaling-stroke"/>
<rect x="166.3" y="40.0" width="49.5" height="14.5" fill="#c6c6c6" stroke="#a8a8a8" stroke-width="0.4" vector-effect="non-scaling-stroke"/>
<path d="M166.3,40.0H215.8" fill="none" stroke="#3a3a3a" stroke-width="0.8" vector-effect="non-scaling-stroke"/>
<path d="M167.1,40.0v11" fill="none" stroke="#222" stroke-width="1.3" vector-effect="non-scaling-stroke"/>
<rect x="221.3" y="40.0" width="49.5" height="14.5" fill="#c6c6c6" stroke="#a8a8a8" stroke-width="0.4" vector-effect="non-scaling-stroke"/>
<path d="M221.3,40.0H270.8" fill="none" stroke="#3a3a3a" stroke-width="0.8" vector-effect="non-scaling-stroke"/>
<path d="M222.1,40.0v11" fill="none" stroke="#222" stroke-width="1.3" vector-effect="non-scaling-stroke"/>
<rect x="276.3" y="40.0" width="49.5" height="14.5" fill="#c6c6c6" stroke="#a8a8a8" stroke-width="0.4" vector-effect="non-scaling-stroke"/>
<path d="M276.3,40.0H325.8" fill="none" stroke="#3a3a3a" stroke-width="0.8" vector-effect="non-scaling-stroke"/>
<path d="M277.1,40.0v11" fill="none" stroke="#222" stroke-width="1.3" vector-effect="non-scaling-stroke"/>
<rect x="331.3" y="40.0" width="49.5" height="14.5" fill="#c6c6c6" stroke="#a8a8a8" stroke-width="0.4" vector-effect="non-scaling-stroke"/>
<path d="M331.3,40.0H380.8" fill="none" stroke="#3a3a3a" stroke-width="0.8" vector-effect="non-scaling-stroke"/>
<path d="M332.1,40.0v11" fill="none" stroke="#222" stroke-width="1.3" vector-effect="non-scaling-stroke"/>
<rect x="386.3" y="40.0" width="49.5" height="14.5" fill="#c6c6c6" stroke="#a8a8a8" stroke-width="0.4" vector-effect="non-scaling-stroke"/>
<path d="M386.3,40.0H435.8" fill="none" stroke="#3a3a3a" stroke-width="0.8" vector-effect="non-scaling-stroke"/>
<path d="M387.1,40.0v11" fill="none" stroke="#222" stroke-width="1.3" vector-effect="non-scaling-stroke"/>
<rect x="441.3" y="40.0" width="49.5" height="14.5" fill="#c6c6c6" stroke="#a8a8a8" stroke-width="0.4" vector-effect="non-scaling-stroke"/>
<path d="M441.3,40.0H490.8" fill="none" stroke="#3a3a3a" stroke-width="0.8" vector-effect="non-scaling-stroke"/>
<path d="M442.1,40.0v11" fill="none" stroke="#222" stroke-width="1.3" vector-effect="non-scaling-stroke"/>
<rect x="496.3" y="40.0" width="49.5" height="14.5" fill="#c6c6c6" stroke="#a8a8a8" stroke-width="0.4" vector-effect="non-scaling-stroke"/>
<path d="M496.3,40.0H545.8" fill="none" stroke="#3a3a3a" stroke-width="0.8" vector-effect="non-scaling-stroke"/>
<path d="M497.1,40.0v11" fill="none" stroke="#222" stroke-width="1.3" vector-effect="non-scaling-stroke"/>
<rect x="29.0" y="16.5" width="49.5" height="14.5" fill="#c6c6c6" stroke="#a8a8a8" stroke-width="0.4" vector-effect="non-scaling-stroke"/>
<path d="M29.0,16.5H78.5" fill="none" stroke="#3a3a3a" stroke-width="0.8" vector-effect="non-scaling-stroke"/>
<path d="M29.8,16.5v11" fill="none" stroke="#222" stroke-width="1.3" vector-effect="non-scaling-stroke"/>
<rect x="84.0" y="16.5" width="49.5" height="14.5" fill="#c6c6c6" stroke="#a8a8a8" stroke-width="0.4" vector-effect="non-scaling-stroke"/>
<path d="M84.0,16.5H133.5" fill="none" stroke="#3a3a3a" stroke-width="0.8" vector-effect="non-scaling-stroke"/>
<path d="M84.8,16.5v11" fill="none" stroke="#222" stroke-width="1.3" vector-effect="non-scaling-stroke"/>
<rect x="139.0" y="16.5" width="49.5" height="14.5" fill="#c6c6c6" stroke="#a8a8a8" stroke-width="0.4" vector-effect="non-scaling-stroke"/>
<path d="M139.0,16.5H188.5" fill="none" stroke="#3a3a3a" stroke-width="0.8" vector-effect="non-scaling-stroke"/>
<path d="M139.8,16.5v11" fill="none" stroke="#222" stroke-width="1.3" vector-effect="non-scaling-stroke"/>
<rect x="194.0" y="16.5" width="49.5" height="14.5" fill="#c6c6c6" stroke="#a8a8a8" stroke-width="0.4" vector-effect="non-scaling-stroke"/>
<path d="M194.0,16.5H243.5" fill="none" stroke="#3a3a3a" stroke-width="0.8" vector-effect="non-scaling-stroke"/>
<path d="M194.8,16.5v11" fill="none" stroke="#222" stroke-width="1.3" vector-effect="non-scaling-stroke"/>
<rect x="249.0" y="16.5" width="49.5" height="14.5" fill="#c6c6c6" stroke="#a8a8a8" stroke-width="0.4" vector-effect="non-scaling-stroke"/>
<path d="M249.0,16.5H298.5" fill="none" stroke="#3a3a3a" stroke-width="0.8" vector-effect="non-scaling-stroke"/>
<path d="M249.8,16.5v11" fill="none" stroke="#222" stroke-width="1.3" vector-effect="non-scaling-stroke"/>
<rect x="304.0" y="16.5" width="49.5" height="14.5" fill="#c6c6c6" stroke="#a8a8a8" stroke-width="0.4" vector-effect="non-scaling-stroke"/>
<path d="M304.0,16.5H353.5" fill="none" stroke="#3a3a3a" stroke-width="0.8" vector-effect="non-scaling-stroke"/>
<path d="M304.8,16.5v11" fill="none" stroke="#222" stroke-width="1.3" vector-effect="non-scaling-stroke"/>
<rect x="359.0" y="16.5" width="49.5" height="14.5" fill="#c6c6c6" stroke="#a8a8a8" stroke-width="0.4" vector-effect="non-scaling-stroke"/>
<path d="M359.0,16.5H408.5" fill="none" stroke="#3a3a3a" stroke-width="0.8" vector-effect="non-scaling-stroke"/>
<path d="M359.8,16.5v11" fill="none" stroke="#222" stroke-width="1.3" vector-effect="non-scaling-stroke"/>
<rect x="414.0" y="16.5" width="49.5" height="14.5" fill="#c6c6c6" stroke="#a8a8a8" stroke-width="0.4" vector-effect="non-scaling-stroke"/>
<path d="M414.0,16.5H463.5" fill="none" stroke="#3a3a3a" stroke-width="0.8" vector-effect="non-scaling-stroke"/>
<path d="M414.8,16.5v11" fill="none" stroke="#222" stroke-width="1.3" vector-effect="non-scaling-stroke"/>
<rect x="469.0" y="16.5" width="49.5" height="14.5" fill="#c6c6c6" stroke="#a8a8a8" stroke-width="0.4" vector-effect="non-scaling-stroke"/>
<path d="M469.0,16.5H518.5" fill="none" stroke="#3a3a3a" stroke-width="0.8" vector-effect="non-scaling-stroke"/>
<path d="M469.8,16.5v11" fill="none" stroke="#222" stroke-width="1.3" vector-effect="non-scaling-stroke"/>
<rect x="524.0" y="16.5" width="49.5" height="14.5" fill="#c6c6c6" stroke="#a8a8a8" stroke-width="0.4" vector-effect="non-scaling-stroke"/>
<path d="M524.0,16.5H573.5" fill="none" stroke="#3a3a3a" stroke-width="0.8" vector-effect="non-scaling-stroke"/>
<path d="M524.8,16.5v11" fill="none" stroke="#222" stroke-width="1.3" vector-effect="non-scaling-stroke"/>
</g></g>
<polygon class="gw" points="934.5,613.3 1158.8,635.4 1158.5,713.6 934.2,691.7" />
<g transform="matrix(1,0.0985,0,1,934.5,613.3)">
<rect class="br" x="12.7" y="5.2" width="22.2" height="5.6" rx="0.9" style="stroke:#303030;stroke-width:0.95"/>
<path d="M14.2,10.4V6.7H34.5" fill="none" stroke="#6a6a6a" stroke-width="0.6"/>
<rect class="br" x="39.1" y="5.2" width="22.2" height="5.6" rx="0.9" style="stroke:#303030;stroke-width:0.95"/>
<path d="M40.6,10.4V6.7H60.9" fill="none" stroke="#6a6a6a" stroke-width="0.6"/>
<rect class="br" x="65.5" y="5.2" width="22.2" height="5.6" rx="0.9" style="stroke:#303030;stroke-width:0.95"/>
<path d="M67.0,10.4V6.7H87.3" fill="none" stroke="#6a6a6a" stroke-width="0.6"/>
<rect class="br" x="91.9" y="5.2" width="22.2" height="5.6" rx="0.9" style="stroke:#303030;stroke-width:0.95"/>
<path d="M93.4,10.4V6.7H113.7" fill="none" stroke="#6a6a6a" stroke-width="0.6"/>
<rect class="br" x="118.3" y="5.2" width="22.2" height="5.6" rx="0.9" style="stroke:#303030;stroke-width:0.95"/>
<path d="M119.8,10.4V6.7H140.1" fill="none" stroke="#6a6a6a" stroke-width="0.6"/>
<rect class="br" x="144.7" y="5.2" width="22.2" height="5.6" rx="0.9" style="stroke:#303030;stroke-width:0.95"/>
<path d="M146.2,10.4V6.7H166.5" fill="none" stroke="#6a6a6a" stroke-width="0.6"/>
<rect class="br" x="171.1" y="5.2" width="22.2" height="5.6" rx="0.9" style="stroke:#303030;stroke-width:0.95"/>
<path d="M172.6,10.4V6.7H192.9" fill="none" stroke="#6a6a6a" stroke-width="0.6"/>
<rect class="br" x="197.5" y="5.2" width="22.2" height="5.6" rx="0.9" style="stroke:#303030;stroke-width:0.95"/>
<path d="M199.0,10.4V6.7H219.3" fill="none" stroke="#6a6a6a" stroke-width="0.6"/>
<rect class="br" x="3.5" y="14.7" width="22.2" height="5.6" rx="0.9" style="stroke:#303030;stroke-width:0.95"/>
<path d="M5.0,19.9V16.2H25.3" fill="none" stroke="#6a6a6a" stroke-width="0.6"/>
<rect class="br" x="29.9" y="14.7" width="22.2" height="5.6" rx="0.9" style="stroke:#303030;stroke-width:0.95"/>
<path d="M31.4,19.9V16.2H51.7" fill="none" stroke="#6a6a6a" stroke-width="0.6"/>
<rect class="br" x="56.3" y="14.7" width="22.2" height="5.6" rx="0.9" style="stroke:#303030;stroke-width:0.95"/>
<path d="M57.8,19.9V16.2H78.1" fill="none" stroke="#6a6a6a" stroke-width="0.6"/>
<rect class="br" x="82.7" y="14.7" width="22.2" height="5.6" rx="0.9" style="stroke:#303030;stroke-width:0.95"/>
<path d="M84.2,19.9V16.2H104.5" fill="none" stroke="#6a6a6a" stroke-width="0.6"/>
<rect class="br" x="109.1" y="14.7" width="22.2" height="5.6" rx="0.9" style="stroke:#303030;stroke-width:0.95"/>
<path d="M110.6,19.9V16.2H130.9" fill="none" stroke="#6a6a6a" stroke-width="0.6"/>
<rect class="br" x="135.5" y="14.7" width="22.2" height="5.6" rx="0.9" style="stroke:#303030;stroke-width:0.95"/>
<path d="M137.0,19.9V16.2H157.3" fill="none" stroke="#6a6a6a" stroke-width="0.6"/>
<rect class="br" x="161.9" y="14.7" width="22.2" height="5.6" rx="0.9" style="stroke:#303030;stroke-width:0.95"/>
<path d="M163.4,19.9V16.2H183.7" fill="none" stroke="#6a6a6a" stroke-width="0.6"/>
<rect class="br" x="188.3" y="14.7" width="22.2" height="5.6" rx="0.9" style="stroke:#303030;stroke-width:0.95"/>
<path d="M189.8,19.9V16.2H210.1" fill="none" stroke="#6a6a6a" stroke-width="0.6"/>
<rect class="br" x="12.7" y="24.2" width="22.2" height="5.6" rx="0.9" style="stroke:#303030;stroke-width:0.95"/>
<path d="M14.2,29.4V25.7H34.5" fill="none" stroke="#6a6a6a" stroke-width="0.6"/>
<rect class="br" x="39.1" y="24.2" width="22.2" height="5.6" rx="0.9" style="stroke:#303030;stroke-width:0.95"/>
<path d="M40.6,29.4V25.7H60.9" fill="none" stroke="#6a6a6a" stroke-width="0.6"/>
<rect class="br" x="65.5" y="24.2" width="22.2" height="5.6" rx="0.9" style="stroke:#303030;stroke-width:0.95"/>
<path d="M67.0,29.4V25.7H87.3" fill="none" stroke="#6a6a6a" stroke-width="0.6"/>
<rect class="br" x="91.9" y="24.2" width="22.2" height="5.6" rx="0.9" style="stroke:#303030;stroke-width:0.95"/>
<path d="M93.4,29.4V25.7H113.7" fill="none" stroke="#6a6a6a" stroke-width="0.6"/>
<rect class="br" x="118.3" y="24.2" width="22.2" height="5.6" rx="0.9" style="stroke:#303030;stroke-width:0.95"/>
<path d="M119.8,29.4V25.7H140.1" fill="none" stroke="#6a6a6a" stroke-width="0.6"/>
<rect class="br" x="144.7" y="24.2" width="22.2" height="5.6" rx="0.9" style="stroke:#303030;stroke-width:0.95"/>
<path d="M146.2,29.4V25.7H166.5" fill="none" stroke="#6a6a6a" stroke-width="0.6"/>
<rect class="br" x="171.1" y="24.2" width="22.2" height="5.6" rx="0.9" style="stroke:#303030;stroke-width:0.95"/>
<path d="M172.6,29.4V25.7H192.9" fill="none" stroke="#6a6a6a" stroke-width="0.6"/>
<rect class="br" x="197.5" y="24.2" width="22.2" height="5.6" rx="0.9" style="stroke:#303030;stroke-width:0.95"/>
<path d="M199.0,29.4V25.7H219.3" fill="none" stroke="#6a6a6a" stroke-width="0.6"/>
<rect class="br" x="3.5" y="33.7" width="22.2" height="5.6" rx="0.9" style="stroke:#303030;stroke-width:0.95"/>
<path d="M5.0,38.9V35.2H25.3" fill="none" stroke="#6a6a6a" stroke-width="0.6"/>
<rect class="br" x="29.9" y="33.7" width="22.2" height="5.6" rx="0.9" style="stroke:#303030;stroke-width:0.95"/>
<path d="M31.4,38.9V35.2H51.7" fill="none" stroke="#6a6a6a" stroke-width="0.6"/>
<rect class="br" x="56.3" y="33.7" width="22.2" height="5.6" rx="0.9" style="stroke:#303030;stroke-width:0.95"/>
<path d="M57.8,38.9V35.2H78.1" fill="none" stroke="#6a6a6a" stroke-width="0.6"/>
<rect class="br" x="82.7" y="33.7" width="22.2" height="5.6" rx="0.9" style="stroke:#303030;stroke-width:0.95"/>
<path d="M84.2,38.9V35.2H104.5" fill="none" stroke="#6a6a6a" stroke-width="0.6"/>
<rect class="br" x="109.1" y="33.7" width="22.2" height="5.6" rx="0.9" style="stroke:#303030;stroke-width:0.95"/>
<path d="M110.6,38.9V35.2H130.9" fill="none" stroke="#6a6a6a" stroke-width="0.6"/>
<rect class="br" x="135.5" y="33.7" width="22.2" height="5.6" rx="0.9" style="stroke:#303030;stroke-width:0.95"/>
<path d="M137.0,38.9V35.2H157.3" fill="none" stroke="#6a6a6a" stroke-width="0.6"/>
<rect class="br" x="161.9" y="33.7" width="22.2" height="5.6" rx="0.9" style="stroke:#303030;stroke-width:0.95"/>
<path d="M163.4,38.9V35.2H183.7" fill="none" stroke="#6a6a6a" stroke-width="0.6"/>
<rect class="br" x="188.3" y="33.7" width="22.2" height="5.6" rx="0.9" style="stroke:#303030;stroke-width:0.95"/>
<path d="M189.8,38.9V35.2H210.1" fill="none" stroke="#6a6a6a" stroke-width="0.6"/>
<rect class="br" x="12.7" y="43.2" width="22.2" height="5.6" rx="0.9" style="stroke:#303030;stroke-width:0.95"/>
<path d="M14.2,48.4V44.7H34.5" fill="none" stroke="#6a6a6a" stroke-width="0.6"/>
<rect class="br" x="39.1" y="43.2" width="22.2" height="5.6" rx="0.9" style="stroke:#303030;stroke-width:0.95"/>
<path d="M40.6,48.4V44.7H60.9" fill="none" stroke="#6a6a6a" stroke-width="0.6"/>
<rect class="br" x="65.5" y="43.2" width="22.2" height="5.6" rx="0.9" style="stroke:#303030;stroke-width:0.95"/>
<path d="M67.0,48.4V44.7H87.3" fill="none" stroke="#6a6a6a" stroke-width="0.6"/>
<rect class="br" x="91.9" y="43.2" width="22.2" height="5.6" rx="0.9" style="stroke:#303030;stroke-width:0.95"/>
<path d="M93.4,48.4V44.7H113.7" fill="none" stroke="#6a6a6a" stroke-width="0.6"/>
<rect class="br" x="118.3" y="43.2" width="22.2" height="5.6" rx="0.9" style="stroke:#303030;stroke-width:0.95"/>
<path d="M119.8,48.4V44.7H140.1" fill="none" stroke="#6a6a6a" stroke-width="0.6"/>
<rect class="br" x="144.7" y="43.2" width="22.2" height="5.6" rx="0.9" style="stroke:#303030;stroke-width:0.95"/>
<path d="M146.2,48.4V44.7H166.5" fill="none" stroke="#6a6a6a" stroke-width="0.6"/>
<rect class="br" x="171.1" y="43.2" width="22.2" height="5.6" rx="0.9" style="stroke:#303030;stroke-width:0.95"/>
<path d="M172.6,48.4V44.7H192.9" fill="none" stroke="#6a6a6a" stroke-width="0.6"/>
<rect class="br" x="197.5" y="43.2" width="22.2" height="5.6" rx="0.9" style="stroke:#303030;stroke-width:0.95"/>
<path d="M199.0,48.4V44.7H219.3" fill="none" stroke="#6a6a6a" stroke-width="0.6"/>
<rect class="br" x="3.5" y="52.7" width="22.2" height="5.6" rx="0.9" style="stroke:#303030;stroke-width:0.95"/>
<path d="M5.0,57.9V54.2H25.3" fill="none" stroke="#6a6a6a" stroke-width="0.6"/>
<rect class="br" x="29.9" y="52.7" width="22.2" height="5.6" rx="0.9" style="stroke:#303030;stroke-width:0.95"/>
<path d="M31.4,57.9V54.2H51.7" fill="none" stroke="#6a6a6a" stroke-width="0.6"/>
<rect class="br" x="56.3" y="52.7" width="22.2" height="5.6" rx="0.9" style="stroke:#303030;stroke-width:0.95"/>
<path d="M57.8,57.9V54.2H78.1" fill="none" stroke="#6a6a6a" stroke-width="0.6"/>
<rect class="br" x="82.7" y="52.7" width="22.2" height="5.6" rx="0.9" style="stroke:#303030;stroke-width:0.95"/>
<path d="M84.2,57.9V54.2H104.5" fill="none" stroke="#6a6a6a" stroke-width="0.6"/>
<rect class="br" x="109.1" y="52.7" width="22.2" height="5.6" rx="0.9" style="stroke:#303030;stroke-width:0.95"/>
<path d="M110.6,57.9V54.2H130.9" fill="none" stroke="#6a6a6a" stroke-width="0.6"/>
<rect class="br" x="135.5" y="52.7" width="22.2" height="5.6" rx="0.9" style="stroke:#303030;stroke-width:0.95"/>
<path d="M137.0,57.9V54.2H157.3" fill="none" stroke="#6a6a6a" stroke-width="0.6"/>
<rect class="br" x="161.9" y="52.7" width="22.2" height="5.6" rx="0.9" style="stroke:#303030;stroke-width:0.95"/>
<path d="M163.4,57.9V54.2H183.7" fill="none" stroke="#6a6a6a" stroke-width="0.6"/>
<rect class="br" x="188.3" y="52.7" width="22.2" height="5.6" rx="0.9" style="stroke:#303030;stroke-width:0.95"/>
<path d="M189.8,57.9V54.2H210.1" fill="none" stroke="#6a6a6a" stroke-width="0.6"/>
<rect class="br" x="12.7" y="62.2" width="22.2" height="5.6" rx="0.9" style="stroke:#303030;stroke-width:0.95"/>
<path d="M14.2,67.4V63.7H34.5" fill="none" stroke="#6a6a6a" stroke-width="0.6"/>
<rect class="br" x="39.1" y="62.2" width="22.2" height="5.6" rx="0.9" style="stroke:#303030;stroke-width:0.95"/>
<path d="M40.6,67.4V63.7H60.9" fill="none" stroke="#6a6a6a" stroke-width="0.6"/>
<rect class="br" x="65.5" y="62.2" width="22.2" height="5.6" rx="0.9" style="stroke:#303030;stroke-width:0.95"/>
<path d="M67.0,67.4V63.7H87.3" fill="none" stroke="#6a6a6a" stroke-width="0.6"/>
<rect class="br" x="91.9" y="62.2" width="22.2" height="5.6" rx="0.9" style="stroke:#303030;stroke-width:0.95"/>
<path d="M93.4,67.4V63.7H113.7" fill="none" stroke="#6a6a6a" stroke-width="0.6"/>
<rect class="br" x="118.3" y="62.2" width="22.2" height="5.6" rx="0.9" style="stroke:#303030;stroke-width:0.95"/>
<path d="M119.8,67.4V63.7H140.1" fill="none" stroke="#6a6a6a" stroke-width="0.6"/>
<rect class="br" x="144.7" y="62.2" width="22.2" height="5.6" rx="0.9" style="stroke:#303030;stroke-width:0.95"/>
<path d="M146.2,67.4V63.7H166.5" fill="none" stroke="#6a6a6a" stroke-width="0.6"/>
<rect class="br" x="171.1" y="62.2" width="22.2" height="5.6" rx="0.9" style="stroke:#303030;stroke-width:0.95"/>
<path d="M172.6,67.4V63.7H192.9" fill="none" stroke="#6a6a6a" stroke-width="0.6"/>
<rect class="br" x="197.5" y="62.2" width="22.2" height="5.6" rx="0.9" style="stroke:#303030;stroke-width:0.95"/>
<path d="M199.0,67.4V63.7H219.3" fill="none" stroke="#6a6a6a" stroke-width="0.6"/>
<rect class="br" x="3.5" y="71.7" width="22.2" height="5.6" rx="0.9" style="stroke:#303030;stroke-width:0.95"/>
<path d="M5.0,76.9V73.2H25.3" fill="none" stroke="#6a6a6a" stroke-width="0.6"/>
<rect class="br" x="29.9" y="71.7" width="22.2" height="5.6" rx="0.9" style="stroke:#303030;stroke-width:0.95"/>
<path d="M31.4,76.9V73.2H51.7" fill="none" stroke="#6a6a6a" stroke-width="0.6"/>
<rect class="br" x="56.3" y="71.7" width="22.2" height="5.6" rx="0.9" style="stroke:#303030;stroke-width:0.95"/>
<path d="M57.8,76.9V73.2H78.1" fill="none" stroke="#6a6a6a" stroke-width="0.6"/>
<rect class="br" x="82.7" y="71.7" width="22.2" height="5.6" rx="0.9" style="stroke:#303030;stroke-width:0.95"/>
<path d="M84.2,76.9V73.2H104.5" fill="none" stroke="#6a6a6a" stroke-width="0.6"/>
<rect class="br" x="109.1" y="71.7" width="22.2" height="5.6" rx="0.9" style="stroke:#303030;stroke-width:0.95"/>
<path d="M110.6,76.9V73.2H130.9" fill="none" stroke="#6a6a6a" stroke-width="0.6"/>
<rect class="br" x="135.5" y="71.7" width="22.2" height="5.6" rx="0.9" style="stroke:#303030;stroke-width:0.95"/>
<path d="M137.0,76.9V73.2H157.3" fill="none" stroke="#6a6a6a" stroke-width="0.6"/>
<rect class="br" x="161.9" y="71.7" width="22.2" height="5.6" rx="0.9" style="stroke:#303030;stroke-width:0.95"/>
<path d="M163.4,76.9V73.2H183.7" fill="none" stroke="#6a6a6a" stroke-width="0.6"/>
<rect class="br" x="188.3" y="71.7" width="22.2" height="5.6" rx="0.9" style="stroke:#303030;stroke-width:0.95"/>
<path d="M189.8,76.9V73.2H210.1" fill="none" stroke="#6a6a6a" stroke-width="0.6"/>
</g>
<polygon class="gw" points="1158.8,635.4 1186.2,560.8 1186.4,639.2 1158.5,713.6" />
<polygon class="gw" points="980.6,525.8 1160.2,544.0 1160.4,569.4 1140.4,622.9 960.8,606.0 961.3,580.0" style="stroke-width:0.9"/>
<path class="g" style="stroke-width:0.9" d="M961.3,580.0L1140.4,598.8L1160.2,544.0 M1140.4,598.8L1140.4,622.9"/>
<path class="g" d="M1131.3,542.7L999.8,529.5L989.4,558.2L1121.7,571.0"/>
<path class="g" d="M1121.7,571.0L1131.3,542.7"/>
<path class="g" d="M989.4,558.2L961.3,580.0 M1121.7,571.0L1140.4,598.8"/>
<path class="g" style="stroke-width:0.9" d="M1035.4,538.7 L1085.4,542.6 C1094,543.4 1100,547.6 1099.8,553 C1099.4,559.6 1094,562.4 1087.3,561.8 L1039.2,557 C1029,555.8 1021.6,551.6 1021.9,546 C1022.4,540.6 1028,538.2 1035.4,538.7 Z"/>
<path class="g" d="M1029.2,540.6V555.2"/>
<circle class="g" cx="1001.7" cy="571.2" r="9"/><circle class="g" cx="1105" cy="581.5" r="9"/>
<circle cx="1008.8" cy="535.7" r="0.9" fill="#222"/>
<circle cx="1002.4" cy="553.7" r="0.9" fill="#222"/>
<circle cx="1118.9" cy="546.5" r="0.9" fill="#222"/>
<circle cx="1111.9" cy="564.7" r="0.9" fill="#222"/>
<circle cx="997.6" cy="609.6" r="0.9" fill="#333"/><circle cx="1101.6" cy="619.6" r="0.9" fill="#333"/>
<path class="g" d="M1040.2,548.8L1075.4,504.6H1112.3"/>
<polygon points="1040.2,548.8 1043.9,542.3 1045.7,543.7" fill="#2a2a2a"/>
<path d="M1077.04,496.84L1077.68,497.48M1076.56,498.60L1077.68,498.60M1077.68,498.60L1077.68,501.32M1077.68,501.32L1076.72,502.12M1077.20,501.80L1082.80,502.44M1078.80,497.48L1082.64,497.48M1078.64,499.24L1082.80,499.24M1079.92,496.36L1079.92,499.24M1079.92,499.24L1078.96,501.16M1081.68,496.36L1081.68,501.16M1085.00,496.36L1083.88,497.96M1083.88,497.96L1085.32,497.80M1085.32,497.80L1083.72,499.88M1083.72,499.88L1085.64,499.56M1083.56,501.64L1085.64,500.84M1086.28,497.80L1089.48,497.32M1086.12,499.56L1089.64,498.92M1087.40,496.36L1088.20,500.20M1088.20,500.20L1089.64,502.44M1089.64,502.44L1089.72,501.32M1089.00,499.88L1086.60,502.28M1088.68,496.68L1089.32,497.16M1090.88,496.84L1093.44,496.84M1093.44,496.84L1092.32,498.12M1092.32,498.12L1092.32,502.28M1092.32,502.28L1091.52,501.80M1090.56,499.72L1093.92,499.08M1094.72,496.44L1094.72,501.64M1094.72,501.64L1095.20,502.28M1095.20,502.28L1096.72,502.28M1096.72,502.28L1096.72,501.00" fill="none" stroke="#5a5a5a" stroke-width="0.60" stroke-linecap="round"><title>进线孔</title></path>
<circle class="g" cx="1099.4" cy="500.4" r="1.5" style="stroke-width:0.55"/><path class="g" style="stroke-width:0.55" d="M1097.9,502.6L1100.9,498.2"/>
<text class="sm" style="font-size:8px;fill:#555" x="1101.6" y="503">80</text>
<path d="M1081.06,507.20L1079.41,510.09M1080.24,509.26L1080.24,513.80M1083.54,507.61L1083.54,508.69M1081.89,508.85L1085.60,508.85M1082.71,510.09L1083.12,512.56M1084.78,510.09L1084.20,512.56M1081.47,513.14L1085.60,513.14M1088.24,507.86L1093.19,507.86M1093.19,507.86L1093.19,509.34M1088.24,509.34L1093.19,509.34M1088.24,507.86L1088.24,511.32M1088.24,511.32L1087.25,513.80M1089.31,510.66L1093.60,510.66M1091.37,509.68L1091.37,511.82M1089.72,511.82L1093.02,511.82M1089.72,511.82L1089.72,513.63M1093.02,511.82L1093.02,513.63M1089.72,513.63L1093.02,513.63M1095.41,508.02L1101.19,508.02M1098.30,508.02L1098.30,512.98M1098.30,510.50L1100.78,510.50M1096.24,510.09L1096.24,512.98M1095.00,512.98L1101.60,512.98M1103.83,509.26L1108.78,509.26M1103.83,509.26L1103.83,511.74M1108.78,509.26L1108.78,511.74M1103.83,511.74L1108.78,511.74M1106.30,507.20L1106.30,513.80" fill="none" stroke="#5a5a5a" stroke-width="0.60" stroke-linecap="round"><title>位居正中</title></path>
</g>
</svg>
</body></html>
